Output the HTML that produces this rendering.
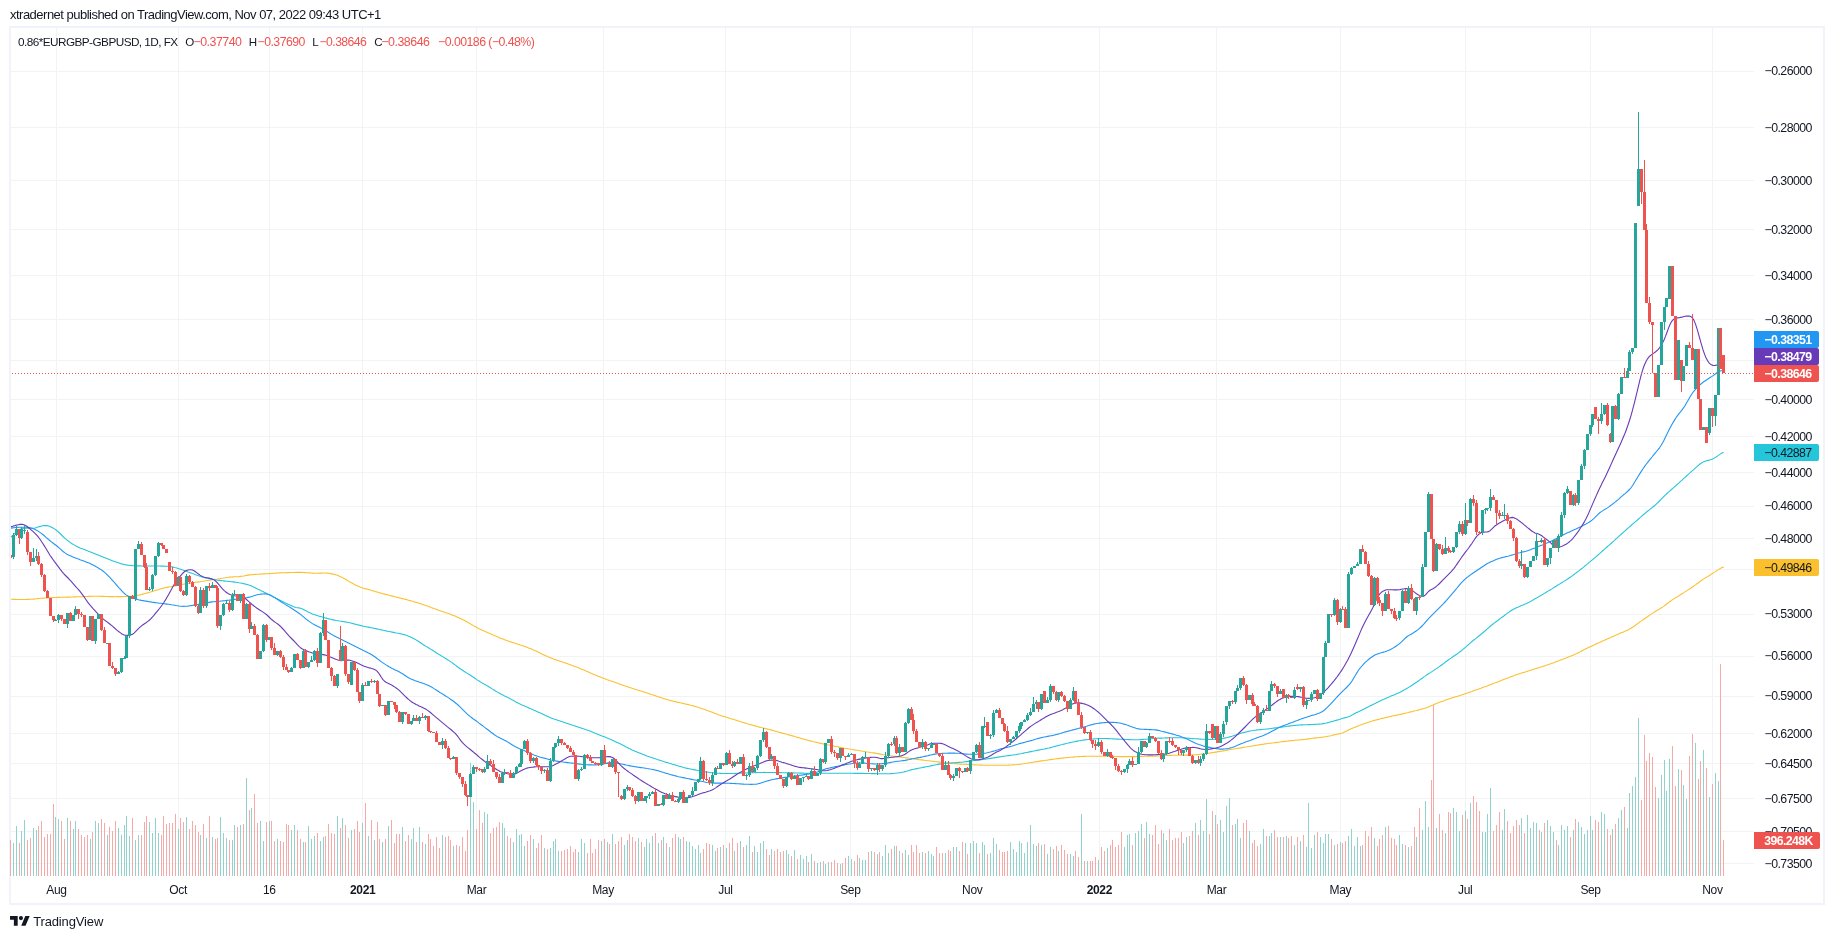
<!DOCTYPE html>
<html><head><meta charset="utf-8"><title>0.86*EURGBP-GBPUSD</title>
<style>
html,body{margin:0;padding:0;background:#fff}
body{width:1834px;height:939px;position:relative;overflow:hidden;font-family:"Liberation Sans",sans-serif;color:#131722}
svg{position:absolute;left:0;top:0}
.u{fill:#26a69a}.d{fill:#ef5350}
.t{position:absolute;white-space:pre;line-height:1}
.bg{position:absolute;left:1754px;width:65px;height:17px;border-radius:0 2px 2px 0}
.bg.v{width:66px}
</style></head><body>
<svg width="1834" height="939" viewBox="0 0 1834 939" shape-rendering="crispEdges">
<path fill="#f0f3fa" d="M9 26h1816v879h-1816zM11 28v875h1812v-875z" fill-rule="evenodd"/>
<path fill="#f2f3f4" d="M56 28h1v848h-1zM178 28h1v848h-1zM269 28h1v848h-1zM362 28h1v848h-1zM476 28h1v848h-1zM603 28h1v848h-1zM725 28h1v848h-1zM850 28h1v848h-1zM972 28h1v848h-1zM1099 28h1v848h-1zM1216 28h1v848h-1zM1340 28h1v848h-1zM1465 28h1v848h-1zM1590 28h1v848h-1zM1712 28h1v848h-1zM11 71h1743v1h-1743zM11 127h1743v1h-1743zM11 180h1743v1h-1743zM11 229h1743v1h-1743zM11 275h1743v1h-1743zM11 319h1743v1h-1743zM11 360h1743v1h-1743zM11 399h1743v1h-1743zM11 436h1743v1h-1743zM11 472h1743v1h-1743zM11 506h1743v1h-1743zM11 538h1743v1h-1743zM11 569h1743v1h-1743zM11 614h1743v1h-1743zM11 656h1743v1h-1743zM11 696h1743v1h-1743zM11 733h1743v1h-1743zM11 763h1743v1h-1743zM11 798h1743v1h-1743zM11 831h1743v1h-1743zM11 863h1743v1h-1743z"/>
<path fill="#92d2cc" d="M13 843h1v33h-1zM16 826h1v50h-1zM21 831h1v45h-1zM24 820h1v56h-1zM33 828h1v48h-1zM36 830h1v46h-1zM55 817h1v59h-1zM58 819h1v57h-1zM67 818h1v58h-1zM73 829h1v47h-1zM75 821h1v55h-1zM90 839h1v37h-1zM95 821h1v55h-1zM98 823h1v53h-1zM107 835h1v41h-1zM118 828h1v48h-1zM121 835h1v41h-1zM124 825h1v51h-1zM126 816h1v60h-1zM129 836h1v40h-1zM135 840h1v36h-1zM138 835h1v41h-1zM149 822h1v54h-1zM152 833h1v43h-1zM155 818h1v58h-1zM158 833h1v43h-1zM178 829h1v47h-1zM186 817h1v59h-1zM200 835h1v41h-1zM206 838h1v38h-1zM212 837h1v39h-1zM220 817h1v59h-1zM223 833h1v43h-1zM226 838h1v38h-1zM232 840h1v36h-1zM234 825h1v51h-1zM240 825h1v51h-1zM246 778h1v98h-1zM251 808h1v68h-1zM260 821h1v55h-1zM263 841h1v35h-1zM269 821h1v55h-1zM277 839h1v37h-1zM291 830h1v46h-1zM294 825h1v51h-1zM303 842h1v34h-1zM308 826h1v50h-1zM311 839h1v37h-1zM314 836h1v40h-1zM320 841h1v35h-1zM323 837h1v39h-1zM337 816h1v60h-1zM342 818h1v58h-1zM351 830h1v46h-1zM362 823h1v53h-1zM368 836h1v40h-1zM374 840h1v36h-1zM382 842h1v34h-1zM388 826h1v50h-1zM402 827h1v49h-1zM411 839h1v37h-1zM413 828h1v48h-1zM419 827h1v49h-1zM425 844h1v32h-1zM442 835h1v41h-1zM453 846h1v30h-1zM470 763h1v113h-1zM473 802h1v74h-1zM484 812h1v64h-1zM487 814h1v62h-1zM502 823h1v53h-1zM504 828h1v48h-1zM513 842h1v34h-1zM516 829h1v47h-1zM519 835h1v41h-1zM521 834h1v42h-1zM524 846h1v30h-1zM533 839h1v37h-1zM544 848h1v28h-1zM550 848h1v28h-1zM553 841h1v35h-1zM555 839h1v37h-1zM558 851h1v25h-1zM578 852h1v24h-1zM581 839h1v37h-1zM584 843h1v33h-1zM601 841h1v35h-1zM607 842h1v34h-1zM612 834h1v42h-1zM624 845h1v31h-1zM627 840h1v36h-1zM638 838h1v38h-1zM644 847h1v29h-1zM646 839h1v37h-1zM649 843h1v33h-1zM652 836h1v40h-1zM658 843h1v33h-1zM663 837h1v39h-1zM669 847h1v29h-1zM678 837h1v39h-1zM680 839h1v37h-1zM686 841h1v35h-1zM689 842h1v34h-1zM692 846h1v30h-1zM695 849h1v27h-1zM698 845h1v31h-1zM700 853h1v23h-1zM712 845h1v31h-1zM715 851h1v25h-1zM720 847h1v29h-1zM726 848h1v28h-1zM734 851h1v25h-1zM740 841h1v35h-1zM746 845h1v31h-1zM749 836h1v40h-1zM754 846h1v30h-1zM757 852h1v24h-1zM760 843h1v33h-1zM763 841h1v35h-1zM771 849h1v27h-1zM786 850h1v26h-1zM788 854h1v22h-1zM794 850h1v26h-1zM800 855h1v21h-1zM803 859h1v17h-1zM806 856h1v20h-1zM811 854h1v22h-1zM817 863h1v13h-1zM820 862h1v14h-1zM825 864h1v12h-1zM828 862h1v14h-1zM840 864h1v12h-1zM848 856h1v20h-1zM851 859h1v17h-1zM859 858h1v18h-1zM862 860h1v16h-1zM865 860h1v16h-1zM871 851h1v25h-1zM877 854h1v22h-1zM882 856h1v20h-1zM885 845h1v31h-1zM888 853h1v23h-1zM894 846h1v30h-1zM899 851h1v25h-1zM905 850h1v26h-1zM908 855h1v21h-1zM922 852h1v24h-1zM928 851h1v25h-1zM931 854h1v22h-1zM933 856h1v20h-1zM945 853h1v23h-1zM953 847h1v29h-1zM956 847h1v29h-1zM965 843h1v33h-1zM970 843h1v33h-1zM973 841h1v35h-1zM976 843h1v33h-1zM982 842h1v34h-1zM984 845h1v31h-1zM990 853h1v23h-1zM993 838h1v38h-1zM996 844h1v32h-1zM1010 842h1v34h-1zM1013 849h1v27h-1zM1016 852h1v24h-1zM1019 841h1v35h-1zM1021 843h1v33h-1zM1024 853h1v23h-1zM1027 842h1v34h-1zM1030 825h1v51h-1zM1033 844h1v32h-1zM1036 846h1v30h-1zM1041 845h1v31h-1zM1047 854h1v22h-1zM1050 847h1v29h-1zM1058 851h1v25h-1zM1070 854h1v22h-1zM1073 856h1v20h-1zM1081 814h1v62h-1zM1087 861h1v15h-1zM1098 860h1v16h-1zM1107 848h1v28h-1zM1124 847h1v29h-1zM1127 835h1v41h-1zM1129 834h1v42h-1zM1135 833h1v43h-1zM1138 831h1v45h-1zM1141 824h1v52h-1zM1146 822h1v54h-1zM1149 834h1v42h-1zM1163 833h1v43h-1zM1166 840h1v36h-1zM1183 843h1v33h-1zM1186 837h1v39h-1zM1195 823h1v53h-1zM1200 820h1v56h-1zM1203 831h1v45h-1zM1206 799h1v77h-1zM1215 815h1v61h-1zM1220 820h1v56h-1zM1223 832h1v44h-1zM1226 806h1v70h-1zM1229 798h1v78h-1zM1235 824h1v52h-1zM1237 819h1v57h-1zM1240 838h1v38h-1zM1249 831h1v45h-1zM1260 844h1v32h-1zM1263 829h1v47h-1zM1269 836h1v40h-1zM1271 833h1v43h-1zM1280 837h1v39h-1zM1286 836h1v40h-1zM1294 845h1v31h-1zM1300 841h1v35h-1zM1306 847h1v29h-1zM1308 803h1v73h-1zM1311 848h1v28h-1zM1314 835h1v41h-1zM1320 837h1v39h-1zM1323 843h1v33h-1zM1325 834h1v42h-1zM1328 834h1v42h-1zM1334 845h1v31h-1zM1340 842h1v34h-1zM1348 836h1v40h-1zM1351 829h1v47h-1zM1354 846h1v30h-1zM1357 837h1v39h-1zM1360 846h1v30h-1zM1374 838h1v38h-1zM1385 827h1v49h-1zM1399 835h1v41h-1zM1402 844h1v32h-1zM1408 847h1v29h-1zM1416 837h1v39h-1zM1422 830h1v46h-1zM1425 801h1v75h-1zM1428 827h1v49h-1zM1436 828h1v48h-1zM1445 833h1v43h-1zM1453 808h1v68h-1zM1456 812h1v64h-1zM1459 831h1v45h-1zM1465 811h1v65h-1zM1470 803h1v73h-1zM1482 832h1v44h-1zM1485 832h1v44h-1zM1487 814h1v62h-1zM1490 788h1v88h-1zM1502 830h1v46h-1zM1504 809h1v67h-1zM1521 818h1v58h-1zM1527 815h1v61h-1zM1530 828h1v48h-1zM1533 822h1v54h-1zM1536 823h1v53h-1zM1541 832h1v44h-1zM1547 820h1v56h-1zM1550 826h1v50h-1zM1553 832h1v44h-1zM1558 845h1v31h-1zM1561 825h1v51h-1zM1564 830h1v46h-1zM1567 826h1v50h-1zM1573 830h1v46h-1zM1578 822h1v54h-1zM1581 827h1v49h-1zM1584 834h1v42h-1zM1587 830h1v46h-1zM1590 816h1v60h-1zM1592 830h1v46h-1zM1601 812h1v64h-1zM1604 814h1v62h-1zM1612 829h1v47h-1zM1618 818h1v58h-1zM1621 810h1v66h-1zM1627 828h1v48h-1zM1629 793h1v83h-1zM1632 786h1v90h-1zM1635 777h1v99h-1zM1638 718h1v158h-1zM1658 798h1v78h-1zM1661 775h1v101h-1zM1664 760h1v116h-1zM1666 791h1v85h-1zM1669 759h1v117h-1zM1678 769h1v107h-1zM1683 785h1v91h-1zM1686 799h1v77h-1zM1695 743h1v133h-1zM1703 750h1v126h-1zM1709 797h1v79h-1zM1715 773h1v103h-1zM1718 781h1v95h-1z"/>
<path fill="#f7a9a7" d="M10 840h1v36h-1zM19 843h1v33h-1zM27 840h1v36h-1zM30 838h1v38h-1zM38 826h1v50h-1zM41 821h1v55h-1zM44 837h1v39h-1zM47 834h1v42h-1zM50 834h1v42h-1zM53 804h1v72h-1zM61 821h1v55h-1zM64 839h1v37h-1zM70 821h1v55h-1zM78 829h1v47h-1zM81 835h1v41h-1zM84 837h1v39h-1zM87 835h1v41h-1zM92 832h1v44h-1zM101 819h1v57h-1zM104 823h1v53h-1zM109 827h1v49h-1zM112 831h1v45h-1zM115 821h1v55h-1zM132 818h1v58h-1zM141 835h1v41h-1zM144 822h1v54h-1zM146 816h1v60h-1zM161 835h1v41h-1zM163 816h1v60h-1zM166 824h1v52h-1zM169 823h1v53h-1zM172 823h1v53h-1zM175 814h1v62h-1zM180 818h1v58h-1zM183 822h1v54h-1zM189 829h1v47h-1zM192 821h1v55h-1zM195 825h1v51h-1zM198 832h1v44h-1zM203 824h1v52h-1zM209 816h1v60h-1zM215 839h1v37h-1zM217 838h1v38h-1zM229 840h1v36h-1zM237 827h1v49h-1zM243 824h1v52h-1zM249 810h1v66h-1zM254 794h1v82h-1zM257 823h1v53h-1zM266 822h1v54h-1zM271 821h1v55h-1zM274 841h1v35h-1zM280 841h1v35h-1zM283 842h1v34h-1zM286 824h1v52h-1zM288 825h1v51h-1zM297 830h1v46h-1zM300 839h1v37h-1zM305 842h1v34h-1zM317 833h1v43h-1zM325 836h1v40h-1zM328 824h1v52h-1zM331 833h1v43h-1zM334 834h1v42h-1zM340 828h1v48h-1zM345 825h1v51h-1zM348 838h1v38h-1zM354 829h1v47h-1zM357 821h1v55h-1zM359 832h1v44h-1zM365 803h1v73h-1zM371 820h1v56h-1zM377 822h1v54h-1zM379 839h1v37h-1zM385 839h1v37h-1zM391 820h1v56h-1zM394 843h1v33h-1zM396 834h1v42h-1zM399 834h1v42h-1zM405 841h1v35h-1zM408 835h1v41h-1zM416 842h1v34h-1zM422 842h1v34h-1zM428 834h1v42h-1zM430 839h1v37h-1zM433 846h1v30h-1zM436 837h1v39h-1zM439 848h1v28h-1zM445 837h1v39h-1zM448 836h1v40h-1zM450 840h1v36h-1zM456 845h1v31h-1zM459 846h1v30h-1zM462 837h1v39h-1zM465 851h1v25h-1zM467 830h1v46h-1zM476 829h1v47h-1zM479 810h1v66h-1zM482 823h1v53h-1zM490 833h1v43h-1zM493 828h1v48h-1zM496 827h1v49h-1zM499 822h1v54h-1zM507 836h1v40h-1zM510 838h1v38h-1zM527 841h1v35h-1zM530 835h1v41h-1zM536 848h1v28h-1zM538 843h1v33h-1zM541 835h1v41h-1zM547 849h1v27h-1zM561 851h1v25h-1zM564 850h1v26h-1zM567 849h1v27h-1zM570 846h1v30h-1zM573 852h1v24h-1zM575 849h1v27h-1zM587 853h1v23h-1zM590 839h1v37h-1zM592 853h1v23h-1zM595 849h1v27h-1zM598 840h1v36h-1zM604 839h1v37h-1zM609 844h1v32h-1zM615 844h1v32h-1zM618 841h1v35h-1zM621 837h1v39h-1zM629 834h1v42h-1zM632 837h1v39h-1zM635 841h1v35h-1zM641 842h1v34h-1zM655 833h1v43h-1zM661 840h1v36h-1zM666 843h1v33h-1zM672 838h1v38h-1zM675 834h1v42h-1zM683 837h1v39h-1zM703 849h1v27h-1zM706 843h1v33h-1zM709 844h1v32h-1zM717 848h1v28h-1zM723 845h1v31h-1zM729 843h1v33h-1zM732 838h1v38h-1zM737 843h1v33h-1zM743 847h1v29h-1zM752 852h1v24h-1zM766 849h1v27h-1zM769 855h1v21h-1zM774 851h1v25h-1zM777 849h1v27h-1zM780 852h1v24h-1zM783 851h1v25h-1zM791 856h1v20h-1zM797 859h1v17h-1zM808 862h1v14h-1zM814 861h1v15h-1zM823 861h1v15h-1zM831 862h1v14h-1zM834 860h1v16h-1zM837 863h1v13h-1zM842 863h1v13h-1zM845 858h1v18h-1zM854 861h1v15h-1zM857 855h1v21h-1zM868 852h1v24h-1zM874 852h1v24h-1zM879 852h1v24h-1zM891 849h1v27h-1zM896 846h1v30h-1zM902 853h1v23h-1zM911 845h1v31h-1zM913 852h1v24h-1zM916 845h1v31h-1zM919 853h1v23h-1zM925 853h1v23h-1zM936 847h1v29h-1zM939 853h1v23h-1zM942 853h1v23h-1zM948 850h1v26h-1zM950 851h1v25h-1zM959 851h1v25h-1zM962 842h1v34h-1zM967 854h1v22h-1zM979 853h1v23h-1zM987 854h1v22h-1zM999 850h1v26h-1zM1002 852h1v24h-1zM1004 852h1v24h-1zM1007 851h1v25h-1zM1038 843h1v33h-1zM1044 844h1v32h-1zM1053 849h1v27h-1zM1056 846h1v30h-1zM1061 845h1v31h-1zM1064 850h1v26h-1zM1067 854h1v22h-1zM1075 851h1v25h-1zM1078 857h1v19h-1zM1084 861h1v15h-1zM1090 861h1v15h-1zM1092 861h1v15h-1zM1095 857h1v19h-1zM1101 847h1v29h-1zM1104 851h1v25h-1zM1110 845h1v31h-1zM1112 840h1v36h-1zM1115 847h1v29h-1zM1118 845h1v31h-1zM1121 832h1v44h-1zM1132 845h1v31h-1zM1144 838h1v38h-1zM1152 835h1v41h-1zM1155 825h1v51h-1zM1158 844h1v32h-1zM1161 830h1v46h-1zM1169 829h1v47h-1zM1172 840h1v36h-1zM1175 838h1v38h-1zM1178 838h1v38h-1zM1181 832h1v44h-1zM1189 836h1v40h-1zM1192 831h1v45h-1zM1198 835h1v41h-1zM1209 834h1v42h-1zM1212 811h1v65h-1zM1217 824h1v52h-1zM1232 825h1v51h-1zM1243 823h1v53h-1zM1246 820h1v56h-1zM1252 843h1v33h-1zM1254 840h1v36h-1zM1257 846h1v30h-1zM1266 836h1v40h-1zM1274 830h1v46h-1zM1277 837h1v39h-1zM1283 837h1v39h-1zM1288 838h1v38h-1zM1291 836h1v40h-1zM1297 837h1v39h-1zM1303 835h1v41h-1zM1317 832h1v44h-1zM1331 839h1v37h-1zM1337 844h1v32h-1zM1342 843h1v33h-1zM1345 841h1v35h-1zM1362 845h1v31h-1zM1365 831h1v45h-1zM1368 836h1v40h-1zM1371 827h1v49h-1zM1377 846h1v30h-1zM1379 839h1v37h-1zM1382 835h1v41h-1zM1388 826h1v50h-1zM1391 838h1v38h-1zM1394 839h1v37h-1zM1396 845h1v31h-1zM1405 845h1v31h-1zM1411 846h1v30h-1zM1414 827h1v49h-1zM1419 808h1v68h-1zM1431 780h1v96h-1zM1433 705h1v171h-1zM1439 814h1v62h-1zM1442 830h1v46h-1zM1448 812h1v64h-1zM1450 813h1v63h-1zM1462 815h1v61h-1zM1467 819h1v57h-1zM1473 796h1v80h-1zM1476 802h1v74h-1zM1479 811h1v65h-1zM1493 831h1v45h-1zM1496 825h1v51h-1zM1499 812h1v64h-1zM1507 821h1v55h-1zM1510 833h1v43h-1zM1513 826h1v50h-1zM1516 820h1v56h-1zM1519 825h1v51h-1zM1524 833h1v43h-1zM1539 830h1v46h-1zM1544 823h1v53h-1zM1556 840h1v36h-1zM1570 837h1v39h-1zM1575 819h1v57h-1zM1595 820h1v56h-1zM1598 822h1v54h-1zM1607 829h1v47h-1zM1610 835h1v41h-1zM1615 824h1v52h-1zM1624 807h1v69h-1zM1641 800h1v76h-1zM1644 735h1v141h-1zM1646 761h1v115h-1zM1649 753h1v123h-1zM1652 757h1v119h-1zM1655 787h1v89h-1zM1672 746h1v130h-1zM1675 786h1v90h-1zM1681 770h1v106h-1zM1689 756h1v120h-1zM1692 734h1v142h-1zM1698 779h1v97h-1zM1700 761h1v115h-1zM1706 768h1v108h-1zM1712 784h1v92h-1zM1720 664h1v212h-1zM1723 840h1v36h-1z"/>
<g shape-rendering="geometricPrecision">
<path fill="none" stroke="#fbc02d" stroke-width="1.1" stroke-linejoin="round" d="M11.0 599.2L12.5 599.3L14.0 599.4L15.5 599.4L17.0 599.5L18.5 599.5L20.0 599.5L21.5 599.5L23.0 599.5L24.5 599.5L26.0 599.5L27.5 599.4L29.0 599.4L30.5 599.3L32.0 599.2L33.5 599.1L35.0 599.0L36.5 598.8L38.0 598.6L39.5 598.5L41.0 598.3L42.5 598.2L44.0 598.1L45.5 598.0L47.0 597.9L48.5 597.8L50.0 597.7L51.5 597.7L53.0 597.6L54.5 597.5L56.0 597.5L57.5 597.4L59.0 597.4L60.5 597.3L62.0 597.3L63.5 597.2L65.0 597.2L66.5 597.1L68.0 597.1L69.5 597.1L71.0 597.0L72.5 597.0L74.0 596.9L75.5 596.9L77.0 596.8L78.5 596.8L80.0 596.7L81.5 596.7L83.0 596.6L84.5 596.6L86.0 596.5L87.5 596.5L89.0 596.4L90.5 596.4L92.0 596.3L93.5 596.3L95.0 596.3L96.5 596.3L98.0 596.3L99.5 596.3L101.0 596.4L102.5 596.4L104.0 596.4L105.5 596.5L107.0 596.5L108.5 596.6L110.0 596.6L111.5 596.6L113.0 596.6L114.5 596.7L116.0 596.7L117.5 596.6L119.0 596.6L120.5 596.6L122.0 596.6L123.5 596.5L125.0 596.5L126.5 596.4L128.0 596.4L129.5 596.3L131.0 596.2L132.5 596.1L134.0 595.9L135.5 595.7L137.0 595.5L138.5 595.2L140.0 594.9L141.5 594.5L143.0 594.1L144.5 593.7L146.0 593.3L147.5 592.9L149.0 592.4L150.5 592.0L152.0 591.5L153.5 591.1L155.0 590.6L156.5 590.1L158.0 589.7L159.5 589.2L161.0 588.8L162.5 588.4L164.0 588.0L165.5 587.7L167.0 587.4L168.5 587.1L170.0 586.8L171.5 586.5L173.0 586.2L174.5 585.9L176.0 585.6L177.5 585.3L179.0 585.0L180.5 584.7L182.0 584.4L183.5 584.2L185.0 583.9L186.5 583.7L188.0 583.4L189.5 583.2L191.0 583.0L192.5 582.8L194.0 582.5L195.5 582.3L197.0 582.1L198.5 581.9L200.0 581.7L201.5 581.5L203.0 581.3L204.5 581.0L206.0 580.8L207.5 580.5L209.0 580.3L210.5 580.1L212.0 579.8L213.5 579.6L215.0 579.4L216.5 579.2L218.0 579.0L219.5 578.8L221.0 578.5L222.5 578.3L224.0 578.0L225.5 577.8L227.0 577.5L228.5 577.3L230.0 577.1L231.5 577.0L233.0 576.9L234.5 576.8L236.0 576.8L237.5 576.7L239.0 576.6L240.5 576.4L242.0 576.2L243.5 576.0L245.0 575.7L246.5 575.4L248.0 575.1L249.5 574.9L251.0 574.7L252.5 574.6L254.0 574.5L255.5 574.4L257.0 574.3L258.5 574.2L260.0 574.1L261.5 574.0L263.0 573.9L264.5 573.9L266.0 573.8L267.5 573.7L269.0 573.6L270.5 573.5L272.0 573.4L273.5 573.3L275.0 573.2L276.5 573.1L278.0 573.0L279.5 572.9L281.0 572.8L282.5 572.7L284.0 572.7L285.5 572.7L287.0 572.6L288.5 572.6L290.0 572.5L291.5 572.5L293.0 572.5L294.5 572.5L296.0 572.4L297.5 572.4L299.0 572.4L300.5 572.4L302.0 572.4L303.5 572.5L305.0 572.6L306.5 572.7L308.0 572.8L309.5 572.9L311.0 573.0L312.5 573.1L314.0 573.2L315.5 573.2L317.0 573.3L318.5 573.2L320.0 573.1L321.5 573.1L323.0 573.0L324.5 573.0L326.0 573.0L327.5 573.1L329.0 573.3L330.5 573.6L332.0 573.9L333.5 574.2L335.0 574.6L336.5 575.1L338.0 575.6L339.5 576.2L341.0 576.9L342.5 577.6L344.0 578.5L345.5 579.3L347.0 580.2L348.5 581.1L350.0 582.0L351.5 582.8L353.0 583.6L354.5 584.5L356.0 585.3L357.5 586.0L359.0 586.6L360.5 587.2L362.0 587.7L363.5 588.2L365.0 588.6L366.5 589.0L368.0 589.4L369.5 589.8L371.0 590.2L372.5 590.7L374.0 591.1L375.5 591.6L377.0 592.0L378.5 592.5L380.0 592.9L381.5 593.3L383.0 593.7L384.5 594.1L386.0 594.5L387.5 594.9L389.0 595.3L390.5 595.6L392.0 596.0L393.5 596.4L395.0 596.8L396.5 597.1L398.0 597.5L399.5 597.9L401.0 598.2L402.5 598.6L404.0 599.0L405.5 599.4L407.0 599.8L408.5 600.2L410.0 600.6L411.5 601.0L413.0 601.5L414.5 601.9L416.0 602.4L417.5 602.8L419.0 603.3L420.5 603.8L422.0 604.3L423.5 604.8L425.0 605.3L426.5 605.8L428.0 606.3L429.5 606.8L431.0 607.4L432.5 607.9L434.0 608.5L435.5 609.0L437.0 609.6L438.5 610.2L440.0 610.7L441.5 611.2L443.0 611.7L444.5 612.3L446.0 612.8L447.5 613.3L449.0 613.8L450.5 614.3L452.0 614.9L453.5 615.5L455.0 616.1L456.5 616.7L458.0 617.4L459.5 618.1L461.0 618.8L462.5 619.6L464.0 620.3L465.5 621.1L467.0 621.9L468.5 622.8L470.0 623.6L471.5 624.5L473.0 625.4L474.5 626.3L476.0 627.1L477.5 627.9L479.0 628.7L480.5 629.4L482.0 630.1L483.5 630.8L485.0 631.4L486.5 632.1L488.0 632.7L489.5 633.4L491.0 634.0L492.5 634.7L494.0 635.3L495.5 636.0L497.0 636.6L498.5 637.3L500.0 637.9L501.5 638.5L503.0 639.1L504.5 639.7L506.0 640.3L507.5 640.8L509.0 641.3L510.5 641.9L512.0 642.3L513.5 642.8L515.0 643.3L516.5 643.8L518.0 644.2L519.5 644.7L521.0 645.2L522.5 645.7L524.0 646.2L525.5 646.7L527.0 647.3L528.5 647.9L530.0 648.5L531.5 649.1L533.0 649.8L534.5 650.4L536.0 651.1L537.5 651.8L539.0 652.6L540.5 653.3L542.0 654.0L543.5 654.7L545.0 655.4L546.5 656.1L548.0 656.8L549.5 657.4L551.0 658.0L552.5 658.6L554.0 659.2L555.5 659.7L557.0 660.3L558.5 660.8L560.0 661.3L561.5 661.8L563.0 662.3L564.5 662.8L566.0 663.3L567.5 663.8L569.0 664.3L570.5 664.8L572.0 665.4L573.5 665.9L575.0 666.5L576.5 667.0L578.0 667.6L579.5 668.2L581.0 668.9L582.5 669.5L584.0 670.1L585.5 670.8L587.0 671.4L588.5 672.1L590.0 672.7L591.5 673.4L593.0 674.0L594.5 674.7L596.0 675.3L597.5 675.9L599.0 676.5L600.5 677.1L602.0 677.7L603.5 678.3L605.0 678.8L606.5 679.4L608.0 679.9L609.5 680.5L611.0 681.0L612.5 681.5L614.0 682.1L615.5 682.6L617.0 683.1L618.5 683.6L620.0 684.2L621.5 684.7L623.0 685.2L624.5 685.7L626.0 686.2L627.5 686.7L629.0 687.2L630.5 687.7L632.0 688.2L633.5 688.7L635.0 689.2L636.5 689.7L638.0 690.2L639.5 690.6L641.0 691.1L642.5 691.6L644.0 692.0L645.5 692.5L647.0 693.0L648.5 693.5L650.0 694.0L651.5 694.5L653.0 694.9L654.5 695.4L656.0 695.9L657.5 696.4L659.0 696.9L660.5 697.4L662.0 697.9L663.5 698.4L665.0 698.9L666.5 699.3L668.0 699.8L669.5 700.2L671.0 700.6L672.5 701.0L674.0 701.4L675.5 701.7L677.0 702.1L678.5 702.4L680.0 702.7L681.5 703.0L683.0 703.4L684.5 703.7L686.0 704.1L687.5 704.4L689.0 704.8L690.5 705.2L692.0 705.5L693.5 705.9L695.0 706.4L696.5 706.8L698.0 707.3L699.5 707.7L701.0 708.2L702.5 708.8L704.0 709.3L705.5 709.8L707.0 710.4L708.5 710.9L710.0 711.5L711.5 712.0L713.0 712.6L714.5 713.2L716.0 713.8L717.5 714.3L719.0 714.9L720.5 715.4L722.0 715.9L723.5 716.4L725.0 716.8L726.5 717.3L728.0 717.7L729.5 718.2L731.0 718.7L732.5 719.1L734.0 719.6L735.5 720.1L737.0 720.5L738.5 721.0L740.0 721.5L741.5 722.0L743.0 722.4L744.5 722.9L746.0 723.3L747.5 723.8L749.0 724.2L750.5 724.6L752.0 725.1L753.5 725.5L755.0 725.9L756.5 726.3L758.0 726.7L759.5 727.1L761.0 727.5L762.5 727.8L764.0 728.2L765.5 728.6L767.0 728.9L768.5 729.3L770.0 729.7L771.5 730.1L773.0 730.5L774.5 730.9L776.0 731.4L777.5 731.8L779.0 732.2L780.5 732.6L782.0 733.0L783.5 733.4L785.0 733.8L786.5 734.3L788.0 734.7L789.5 735.1L791.0 735.5L792.5 735.9L794.0 736.3L795.5 736.8L797.0 737.2L798.5 737.6L800.0 738.1L801.5 738.5L803.0 738.9L804.5 739.4L806.0 739.8L807.5 740.2L809.0 740.6L810.5 740.9L812.0 741.3L813.5 741.7L815.0 742.0L816.5 742.4L818.0 742.7L819.5 743.1L821.0 743.4L822.5 743.7L824.0 744.1L825.5 744.4L827.0 744.7L828.5 745.0L830.0 745.3L831.5 745.6L833.0 745.9L834.5 746.2L836.0 746.5L837.5 746.8L839.0 747.1L840.5 747.4L842.0 747.7L843.5 748.0L845.0 748.2L846.5 748.5L848.0 748.8L849.5 749.0L851.0 749.3L852.5 749.5L854.0 749.8L855.5 750.1L857.0 750.3L858.5 750.5L860.0 750.8L861.5 751.0L863.0 751.3L864.5 751.5L866.0 751.8L867.5 752.0L869.0 752.2L870.5 752.5L872.0 752.7L873.5 752.9L875.0 753.1L876.5 753.4L878.0 753.6L879.5 753.9L881.0 754.2L882.5 754.5L884.0 754.7L885.5 755.0L887.0 755.3L888.5 755.5L890.0 755.8L891.5 756.0L893.0 756.2L894.5 756.4L896.0 756.6L897.5 756.8L899.0 756.9L900.5 757.1L902.0 757.3L903.5 757.5L905.0 757.7L906.5 757.9L908.0 758.1L909.5 758.3L911.0 758.5L912.5 758.8L914.0 759.0L915.5 759.2L917.0 759.4L918.5 759.6L920.0 759.8L921.5 759.9L923.0 760.1L924.5 760.3L926.0 760.5L927.5 760.7L929.0 760.8L930.5 761.0L932.0 761.2L933.5 761.4L935.0 761.6L936.5 761.7L938.0 761.9L939.5 762.1L941.0 762.3L942.5 762.4L944.0 762.6L945.5 762.7L947.0 762.9L948.5 763.0L950.0 763.2L951.5 763.3L953.0 763.5L954.5 763.6L956.0 763.8L957.5 763.9L959.0 764.0L960.5 764.1L962.0 764.2L963.5 764.3L965.0 764.3L966.5 764.4L968.0 764.5L969.5 764.6L971.0 764.7L972.5 764.8L974.0 764.8L975.5 764.9L977.0 765.0L978.5 765.0L980.0 765.1L981.5 765.1L983.0 765.2L984.5 765.3L986.0 765.3L987.5 765.3L989.0 765.3L990.5 765.3L992.0 765.3L993.5 765.3L995.0 765.3L996.5 765.3L998.0 765.3L999.5 765.3L1001.0 765.3L1002.5 765.3L1004.0 765.3L1005.5 765.2L1007.0 765.2L1008.5 765.1L1010.0 765.0L1011.5 765.0L1013.0 764.9L1014.5 764.8L1016.0 764.7L1017.5 764.5L1019.0 764.4L1020.5 764.2L1022.0 764.0L1023.5 763.8L1025.0 763.5L1026.5 763.3L1028.0 763.0L1029.5 762.8L1031.0 762.6L1032.5 762.3L1034.0 762.1L1035.5 761.8L1037.0 761.6L1038.5 761.4L1040.0 761.1L1041.5 760.9L1043.0 760.7L1044.5 760.5L1046.0 760.3L1047.5 760.1L1049.0 759.8L1050.5 759.6L1052.0 759.4L1053.5 759.2L1055.0 759.0L1056.5 758.8L1058.0 758.6L1059.5 758.4L1061.0 758.3L1062.5 758.1L1064.0 757.9L1065.5 757.8L1067.0 757.6L1068.5 757.5L1070.0 757.3L1071.5 757.2L1073.0 757.1L1074.5 756.9L1076.0 756.8L1077.5 756.7L1079.0 756.6L1080.5 756.5L1082.0 756.5L1083.5 756.4L1085.0 756.4L1086.5 756.3L1088.0 756.3L1089.5 756.2L1091.0 756.2L1092.5 756.2L1094.0 756.2L1095.5 756.2L1097.0 756.2L1098.5 756.2L1100.0 756.2L1101.5 756.2L1103.0 756.2L1104.5 756.2L1106.0 756.3L1107.5 756.3L1109.0 756.3L1110.5 756.4L1112.0 756.4L1113.5 756.4L1115.0 756.5L1116.5 756.5L1118.0 756.5L1119.5 756.6L1121.0 756.6L1122.5 756.6L1124.0 756.6L1125.5 756.6L1127.0 756.6L1128.5 756.6L1130.0 756.6L1131.5 756.6L1133.0 756.6L1134.5 756.6L1136.0 756.6L1137.5 756.5L1139.0 756.5L1140.5 756.4L1142.0 756.4L1143.5 756.3L1145.0 756.3L1146.5 756.2L1148.0 756.2L1149.5 756.1L1151.0 756.1L1152.5 756.1L1154.0 756.1L1155.5 756.1L1157.0 756.0L1158.5 756.0L1160.0 755.9L1161.5 755.8L1163.0 755.7L1164.5 755.6L1166.0 755.5L1167.5 755.5L1169.0 755.4L1170.5 755.4L1172.0 755.3L1173.5 755.3L1175.0 755.2L1176.5 755.2L1178.0 755.2L1179.5 755.1L1181.0 755.1L1182.5 755.1L1184.0 755.1L1185.5 755.1L1187.0 755.1L1188.5 755.1L1190.0 755.1L1191.5 755.0L1193.0 754.9L1194.5 754.8L1196.0 754.7L1197.5 754.6L1199.0 754.5L1200.5 754.3L1202.0 754.1L1203.5 753.9L1205.0 753.7L1206.5 753.5L1208.0 753.3L1209.5 753.1L1211.0 752.8L1212.5 752.6L1214.0 752.4L1215.5 752.1L1217.0 751.9L1218.5 751.6L1220.0 751.4L1221.5 751.2L1223.0 750.9L1224.5 750.7L1226.0 750.4L1227.5 750.1L1229.0 749.8L1230.5 749.5L1232.0 749.2L1233.5 749.0L1235.0 748.7L1236.5 748.5L1238.0 748.3L1239.5 748.1L1241.0 747.9L1242.5 747.6L1244.0 747.3L1245.5 747.0L1247.0 746.8L1248.5 746.5L1250.0 746.3L1251.5 746.1L1253.0 745.8L1254.5 745.6L1256.0 745.3L1257.5 745.1L1259.0 744.8L1260.5 744.6L1262.0 744.4L1263.5 744.2L1265.0 743.9L1266.5 743.7L1268.0 743.5L1269.5 743.3L1271.0 743.2L1272.5 743.0L1274.0 742.8L1275.5 742.6L1277.0 742.4L1278.5 742.2L1280.0 742.0L1281.5 741.8L1283.0 741.6L1284.5 741.4L1286.0 741.2L1287.5 741.1L1289.0 740.9L1290.5 740.8L1292.0 740.6L1293.5 740.5L1295.0 740.3L1296.5 740.2L1298.0 740.0L1299.5 739.9L1301.0 739.7L1302.5 739.6L1304.0 739.5L1305.5 739.3L1307.0 739.1L1308.5 738.9L1310.0 738.7L1311.5 738.5L1313.0 738.3L1314.5 738.1L1316.0 737.9L1317.5 737.7L1319.0 737.5L1320.5 737.4L1322.0 737.2L1323.5 737.0L1325.0 736.8L1326.5 736.6L1328.0 736.3L1329.5 736.0L1331.0 735.7L1332.5 735.3L1334.0 734.9L1335.5 734.5L1337.0 734.2L1338.5 733.9L1340.0 733.6L1341.5 733.2L1343.0 732.7L1344.5 732.0L1346.0 731.3L1347.5 730.6L1349.0 729.8L1350.5 729.1L1352.0 728.4L1353.5 727.8L1355.0 727.2L1356.5 726.5L1358.0 725.9L1359.5 725.4L1361.0 724.8L1362.5 724.2L1364.0 723.7L1365.5 723.2L1367.0 722.7L1368.5 722.2L1370.0 721.7L1371.5 721.3L1373.0 720.8L1374.5 720.4L1376.0 720.0L1377.5 719.6L1379.0 719.2L1380.5 718.8L1382.0 718.4L1383.5 718.1L1385.0 717.7L1386.5 717.4L1388.0 717.0L1389.5 716.7L1391.0 716.4L1392.5 716.0L1394.0 715.7L1395.5 715.4L1397.0 715.1L1398.5 714.7L1400.0 714.4L1401.5 714.1L1403.0 713.7L1404.5 713.4L1406.0 713.0L1407.5 712.7L1409.0 712.3L1410.5 711.9L1412.0 711.6L1413.5 711.2L1415.0 710.8L1416.5 710.5L1418.0 710.1L1419.5 709.7L1421.0 709.3L1422.5 708.9L1424.0 708.5L1425.5 708.0L1427.0 707.5L1428.5 706.9L1430.0 706.3L1431.5 705.6L1433.0 705.0L1434.5 704.3L1436.0 703.7L1437.5 703.1L1439.0 702.6L1440.5 702.0L1442.0 701.4L1443.5 700.9L1445.0 700.3L1446.5 699.8L1448.0 699.3L1449.5 698.8L1451.0 698.3L1452.5 697.8L1454.0 697.3L1455.5 696.8L1457.0 696.4L1458.5 695.9L1460.0 695.4L1461.5 694.9L1463.0 694.4L1464.5 693.9L1466.0 693.4L1467.5 692.9L1469.0 692.4L1470.5 691.9L1472.0 691.4L1473.5 690.8L1475.0 690.3L1476.5 689.8L1478.0 689.3L1479.5 688.7L1481.0 688.2L1482.5 687.6L1484.0 687.1L1485.5 686.5L1487.0 686.0L1488.5 685.4L1490.0 684.8L1491.5 684.3L1493.0 683.7L1494.5 683.1L1496.0 682.6L1497.5 682.0L1499.0 681.4L1500.5 680.8L1502.0 680.2L1503.5 679.6L1505.0 679.0L1506.5 678.5L1508.0 677.9L1509.5 677.3L1511.0 676.7L1512.5 676.2L1514.0 675.6L1515.5 675.1L1517.0 674.6L1518.5 674.1L1520.0 673.6L1521.5 673.1L1523.0 672.6L1524.5 672.2L1526.0 671.7L1527.5 671.2L1529.0 670.7L1530.5 670.3L1532.0 669.8L1533.5 669.3L1535.0 668.8L1536.5 668.4L1538.0 667.9L1539.5 667.4L1541.0 667.0L1542.5 666.5L1544.0 666.0L1545.5 665.5L1547.0 665.0L1548.5 664.5L1550.0 664.0L1551.5 663.5L1553.0 662.9L1554.5 662.4L1556.0 661.8L1557.5 661.2L1559.0 660.7L1560.5 660.1L1562.0 659.5L1563.5 659.0L1565.0 658.4L1566.5 657.8L1568.0 657.2L1569.5 656.6L1571.0 656.0L1572.5 655.4L1574.0 654.7L1575.5 654.1L1577.0 653.4L1578.5 652.6L1580.0 651.9L1581.5 651.1L1583.0 650.3L1584.5 649.6L1586.0 648.8L1587.5 648.0L1589.0 647.3L1590.5 646.6L1592.0 645.9L1593.5 645.2L1595.0 644.5L1596.5 643.8L1598.0 643.1L1599.5 642.5L1601.0 641.8L1602.5 641.1L1604.0 640.5L1605.5 639.8L1607.0 639.1L1608.5 638.4L1610.0 637.8L1611.5 637.1L1613.0 636.4L1614.5 635.7L1616.0 635.1L1617.5 634.4L1619.0 633.8L1620.5 633.1L1622.0 632.5L1623.5 631.9L1625.0 631.3L1626.5 630.6L1628.0 629.9L1629.5 629.1L1631.0 628.2L1632.5 627.3L1634.0 626.2L1635.5 625.2L1637.0 624.1L1638.5 623.0L1640.0 621.9L1641.5 620.9L1643.0 619.8L1644.5 618.8L1646.0 617.7L1647.5 616.7L1649.0 615.6L1650.5 614.6L1652.0 613.6L1653.5 612.6L1655.0 611.7L1656.5 610.8L1658.0 609.9L1659.5 609.0L1661.0 608.0L1662.5 607.1L1664.0 606.1L1665.5 605.0L1667.0 603.8L1668.5 602.6L1670.0 601.5L1671.5 600.4L1673.0 599.4L1674.5 598.4L1676.0 597.5L1677.5 596.6L1679.0 595.7L1680.5 594.7L1682.0 593.8L1683.5 592.9L1685.0 591.9L1686.5 590.9L1688.0 589.9L1689.5 589.0L1691.0 588.0L1692.5 587.0L1694.0 585.9L1695.5 584.9L1697.0 583.8L1698.5 582.7L1700.0 581.5L1701.5 580.5L1703.0 579.4L1704.5 578.4L1706.0 577.5L1707.5 576.6L1709.0 575.7L1710.5 574.8L1712.0 573.8L1713.5 572.9L1715.0 571.9L1716.5 570.9L1718.0 569.9L1719.5 568.9L1721.0 568.1L1722.5 567.4L1723.7 567.1"/>
<path fill="none" stroke="#26c6da" stroke-width="1.1" stroke-linejoin="round" d="M11.0 537.0L12.5 535.8L14.0 534.3L15.5 532.6L17.0 531.1L18.5 529.9L20.0 529.2L21.5 528.8L23.0 528.5L24.5 528.4L26.0 528.3L27.5 528.2L29.0 528.2L30.5 528.2L32.0 528.2L33.5 528.2L35.0 528.0L36.5 527.6L38.0 527.1L39.5 526.6L41.0 526.2L42.5 525.8L44.0 525.6L45.5 525.5L47.0 525.6L48.5 526.0L50.0 526.5L51.5 527.2L53.0 528.0L54.5 528.9L56.0 530.0L57.5 531.2L59.0 532.5L60.5 534.0L62.0 535.5L63.5 537.0L65.0 538.3L66.5 539.6L68.0 540.8L69.5 541.9L71.0 543.0L72.5 544.0L74.0 544.9L75.5 545.8L77.0 546.5L78.5 547.2L80.0 547.9L81.5 548.4L83.0 549.0L84.5 549.6L86.0 550.2L87.5 550.8L89.0 551.4L90.5 552.0L92.0 552.6L93.5 553.2L95.0 553.8L96.5 554.4L98.0 555.0L99.5 555.6L101.0 556.2L102.5 556.8L104.0 557.4L105.5 558.0L107.0 558.6L108.5 559.2L110.0 559.8L111.5 560.4L113.0 561.0L114.5 561.6L116.0 562.1L117.5 562.6L119.0 563.1L120.5 563.6L122.0 564.0L123.5 564.4L125.0 564.7L126.5 564.9L128.0 565.2L129.5 565.4L131.0 565.5L132.5 565.7L134.0 565.8L135.5 565.8L137.0 565.9L138.5 565.9L140.0 565.9L141.5 566.0L143.0 566.0L144.5 566.0L146.0 566.0L147.5 566.0L149.0 566.0L150.5 566.0L152.0 566.0L153.5 566.0L155.0 566.0L156.5 566.0L158.0 566.0L159.5 566.0L161.0 566.1L162.5 566.1L164.0 566.1L165.5 566.2L167.0 566.2L168.5 566.4L170.0 566.5L171.5 566.8L173.0 567.1L174.5 567.5L176.0 567.8L177.5 568.2L179.0 568.7L180.5 569.2L182.0 569.7L183.5 570.2L185.0 570.7L186.5 571.3L188.0 571.9L189.5 572.4L191.0 573.0L192.5 573.6L194.0 574.1L195.5 574.7L197.0 575.3L198.5 575.8L200.0 576.3L201.5 576.8L203.0 577.2L204.5 577.6L206.0 577.9L207.5 578.3L209.0 578.6L210.5 578.9L212.0 579.2L213.5 579.5L215.0 579.7L216.5 580.0L218.0 580.2L219.5 580.4L221.0 580.6L222.5 580.8L224.0 580.9L225.5 581.1L227.0 581.2L228.5 581.4L230.0 581.5L231.5 581.7L233.0 581.9L234.5 582.1L236.0 582.3L237.5 582.5L239.0 582.8L240.5 583.0L242.0 583.3L243.5 583.6L245.0 584.0L246.5 584.4L248.0 584.8L249.5 585.3L251.0 585.8L252.5 586.5L254.0 587.2L255.5 587.9L257.0 588.7L258.5 589.4L260.0 590.1L261.5 590.9L263.0 591.6L264.5 592.4L266.0 593.1L267.5 593.9L269.0 594.6L270.5 595.4L272.0 596.1L273.5 596.9L275.0 597.6L276.5 598.4L278.0 599.2L279.5 599.9L281.0 600.7L282.5 601.5L284.0 602.2L285.5 603.0L287.0 603.7L288.5 604.4L290.0 605.1L291.5 605.8L293.0 606.5L294.5 607.0L296.0 607.5L297.5 607.7L299.0 607.9L300.5 608.2L302.0 608.7L303.5 609.4L305.0 610.2L306.5 611.1L308.0 611.9L309.5 612.6L311.0 613.3L312.5 613.9L314.0 614.4L315.5 614.9L317.0 615.4L318.5 615.9L320.0 616.4L321.5 616.8L323.0 617.3L324.5 617.7L326.0 618.1L327.5 618.5L329.0 618.9L330.5 619.3L332.0 619.6L333.5 619.9L335.0 620.2L336.5 620.5L338.0 620.7L339.5 621.0L341.0 621.2L342.5 621.4L344.0 621.7L345.5 621.9L347.0 622.2L348.5 622.5L350.0 622.8L351.5 623.2L353.0 623.6L354.5 624.0L356.0 624.4L357.5 624.7L359.0 625.1L360.5 625.5L362.0 625.9L363.5 626.2L365.0 626.5L366.5 626.8L368.0 627.1L369.5 627.4L371.0 627.7L372.5 628.0L374.0 628.3L375.5 628.6L377.0 628.9L378.5 629.2L380.0 629.5L381.5 629.9L383.0 630.2L384.5 630.5L386.0 630.9L387.5 631.2L389.0 631.5L390.5 631.8L392.0 632.1L393.5 632.4L395.0 632.7L396.5 633.0L398.0 633.2L399.5 633.5L401.0 633.9L402.5 634.2L404.0 634.6L405.5 635.1L407.0 635.6L408.5 636.2L410.0 636.8L411.5 637.4L413.0 638.2L414.5 639.0L416.0 639.9L417.5 640.8L419.0 641.8L420.5 642.8L422.0 643.8L423.5 644.7L425.0 645.7L426.5 646.6L428.0 647.5L429.5 648.5L431.0 649.4L432.5 650.3L434.0 651.3L435.5 652.2L437.0 653.2L438.5 654.1L440.0 655.0L441.5 656.0L443.0 656.9L444.5 657.8L446.0 658.7L447.5 659.7L449.0 660.6L450.5 661.6L452.0 662.6L453.5 663.7L455.0 664.9L456.5 666.0L458.0 667.2L459.5 668.3L461.0 669.3L462.5 670.3L464.0 671.3L465.5 672.2L467.0 673.1L468.5 674.0L470.0 675.0L471.5 676.0L473.0 677.0L474.5 678.0L476.0 679.1L477.5 680.1L479.0 681.0L480.5 682.0L482.0 682.9L483.5 683.7L485.0 684.6L486.5 685.4L488.0 686.3L489.5 687.2L491.0 688.1L492.5 689.1L494.0 690.0L495.5 691.0L497.0 691.9L498.5 692.8L500.0 693.6L501.5 694.4L503.0 695.1L504.5 695.9L506.0 696.6L507.5 697.4L509.0 698.1L510.5 698.9L512.0 699.8L513.5 700.6L515.0 701.5L516.5 702.3L518.0 703.0L519.5 703.8L521.0 704.5L522.5 705.2L524.0 705.8L525.5 706.5L527.0 707.1L528.5 707.8L530.0 708.5L531.5 709.1L533.0 709.8L534.5 710.4L536.0 711.1L537.5 711.7L539.0 712.4L540.5 713.1L542.0 713.8L543.5 714.5L545.0 715.2L546.5 715.9L548.0 716.6L549.5 717.3L551.0 717.9L552.5 718.5L554.0 719.1L555.5 719.6L557.0 720.1L558.5 720.6L560.0 721.1L561.5 721.6L563.0 722.1L564.5 722.6L566.0 723.1L567.5 723.5L569.0 724.0L570.5 724.5L572.0 725.0L573.5 725.5L575.0 725.9L576.5 726.4L578.0 726.9L579.5 727.4L581.0 727.9L582.5 728.4L584.0 728.9L585.5 729.5L587.0 730.0L588.5 730.6L590.0 731.1L591.5 731.7L593.0 732.3L594.5 732.9L596.0 733.5L597.5 734.2L599.0 734.8L600.5 735.4L602.0 736.0L603.5 736.5L605.0 737.1L606.5 737.7L608.0 738.3L609.5 739.0L611.0 739.6L612.5 740.3L614.0 741.0L615.5 741.7L617.0 742.4L618.5 743.1L620.0 743.8L621.5 744.6L623.0 745.3L624.5 746.1L626.0 746.9L627.5 747.6L629.0 748.4L630.5 749.1L632.0 749.9L633.5 750.5L635.0 751.2L636.5 751.8L638.0 752.4L639.5 753.0L641.0 753.6L642.5 754.2L644.0 754.8L645.5 755.4L647.0 756.0L648.5 756.5L650.0 757.1L651.5 757.6L653.0 758.1L654.5 758.6L656.0 759.1L657.5 759.6L659.0 760.0L660.5 760.5L662.0 761.0L663.5 761.5L665.0 761.9L666.5 762.4L668.0 762.8L669.5 763.3L671.0 763.7L672.5 764.2L674.0 764.6L675.5 765.1L677.0 765.5L678.5 766.0L680.0 766.4L681.5 766.8L683.0 767.3L684.5 767.7L686.0 768.1L687.5 768.4L689.0 768.7L690.5 769.0L692.0 769.3L693.5 769.6L695.0 769.9L696.5 770.2L698.0 770.5L699.5 770.8L701.0 771.1L702.5 771.4L704.0 771.6L705.5 771.9L707.0 772.1L708.5 772.3L710.0 772.5L711.5 772.7L713.0 772.9L714.5 773.0L716.0 773.1L717.5 773.2L719.0 773.3L720.5 773.4L722.0 773.5L723.5 773.5L725.0 773.5L726.5 773.5L728.0 773.5L729.5 773.5L731.0 773.5L732.5 773.5L734.0 773.5L735.5 773.4L737.0 773.3L738.5 773.3L740.0 773.2L741.5 773.1L743.0 773.1L744.5 773.0L746.0 773.0L747.5 772.9L749.0 772.8L750.5 772.8L752.0 772.7L753.5 772.7L755.0 772.6L756.5 772.6L758.0 772.5L759.5 772.5L761.0 772.5L762.5 772.5L764.0 772.4L765.5 772.5L767.0 772.5L768.5 772.5L770.0 772.5L771.5 772.5L773.0 772.5L774.5 772.5L776.0 772.6L777.5 772.6L779.0 772.6L780.5 772.6L782.0 772.7L783.5 772.7L785.0 772.7L786.5 772.8L788.0 772.8L789.5 772.8L791.0 772.9L792.5 772.9L794.0 772.9L795.5 773.0L797.0 773.0L798.5 773.0L800.0 773.1L801.5 773.1L803.0 773.1L804.5 773.2L806.0 773.2L807.5 773.2L809.0 773.2L810.5 773.2L812.0 773.2L813.5 773.2L815.0 773.2L816.5 773.2L818.0 773.2L819.5 773.2L821.0 773.2L822.5 773.2L824.0 773.2L825.5 773.2L827.0 773.2L828.5 773.2L830.0 773.2L831.5 773.2L833.0 773.2L834.5 773.2L836.0 773.2L837.5 773.2L839.0 773.2L840.5 773.2L842.0 773.2L843.5 773.2L845.0 773.2L846.5 773.3L848.0 773.3L849.5 773.3L851.0 773.3L852.5 773.3L854.0 773.4L855.5 773.4L857.0 773.4L858.5 773.4L860.0 773.4L861.5 773.4L863.0 773.4L864.5 773.5L866.0 773.5L867.5 773.5L869.0 773.5L870.5 773.5L872.0 773.6L873.5 773.6L875.0 773.6L876.5 773.7L878.0 773.7L879.5 773.7L881.0 773.7L882.5 773.7L884.0 773.7L885.5 773.7L887.0 773.7L888.5 773.7L890.0 773.7L891.5 773.6L893.0 773.5L894.5 773.3L896.0 773.2L897.5 773.0L899.0 772.8L900.5 772.6L902.0 772.3L903.5 772.0L905.0 771.6L906.5 771.2L908.0 770.7L909.5 770.3L911.0 769.9L912.5 769.5L914.0 769.2L915.5 768.9L917.0 768.6L918.5 768.3L920.0 768.0L921.5 767.7L923.0 767.4L924.5 767.1L926.0 766.8L927.5 766.5L929.0 766.2L930.5 765.9L932.0 765.6L933.5 765.3L935.0 765.0L936.5 764.7L938.0 764.4L939.5 764.1L941.0 763.9L942.5 763.7L944.0 763.5L945.5 763.3L947.0 763.2L948.5 763.1L950.0 763.0L951.5 762.9L953.0 762.8L954.5 762.7L956.0 762.6L957.5 762.5L959.0 762.4L960.5 762.3L962.0 762.2L963.5 762.0L965.0 761.8L966.5 761.6L968.0 761.4L969.5 761.1L971.0 760.9L972.5 760.7L974.0 760.5L975.5 760.4L977.0 760.2L978.5 760.1L980.0 759.9L981.5 759.7L983.0 759.5L984.5 759.3L986.0 759.1L987.5 758.8L989.0 758.6L990.5 758.4L992.0 758.1L993.5 757.9L995.0 757.6L996.5 757.4L998.0 757.1L999.5 756.9L1001.0 756.7L1002.5 756.4L1004.0 756.2L1005.5 756.0L1007.0 755.8L1008.5 755.6L1010.0 755.4L1011.5 755.2L1013.0 755.0L1014.5 754.8L1016.0 754.6L1017.5 754.3L1019.0 754.0L1020.5 753.8L1022.0 753.5L1023.5 753.1L1025.0 752.8L1026.5 752.5L1028.0 752.2L1029.5 751.9L1031.0 751.6L1032.5 751.3L1034.0 751.0L1035.5 750.7L1037.0 750.4L1038.5 750.1L1040.0 749.8L1041.5 749.5L1043.0 749.2L1044.5 749.0L1046.0 748.6L1047.5 748.3L1049.0 748.0L1050.5 747.6L1052.0 747.2L1053.5 746.8L1055.0 746.4L1056.5 746.0L1058.0 745.6L1059.5 745.2L1061.0 744.8L1062.5 744.5L1064.0 744.1L1065.5 743.7L1067.0 743.3L1068.5 743.0L1070.0 742.6L1071.5 742.3L1073.0 742.0L1074.5 741.7L1076.0 741.4L1077.5 741.1L1079.0 740.8L1080.5 740.6L1082.0 740.3L1083.5 740.1L1085.0 739.9L1086.5 739.7L1088.0 739.5L1089.5 739.3L1091.0 739.2L1092.5 739.0L1094.0 738.9L1095.5 738.8L1097.0 738.7L1098.5 738.6L1100.0 738.5L1101.5 738.5L1103.0 738.5L1104.5 738.5L1106.0 738.5L1107.5 738.6L1109.0 738.6L1110.5 738.7L1112.0 738.8L1113.5 738.9L1115.0 739.0L1116.5 739.1L1118.0 739.1L1119.5 739.2L1121.0 739.3L1122.5 739.3L1124.0 739.4L1125.5 739.5L1127.0 739.5L1128.5 739.6L1130.0 739.6L1131.5 739.7L1133.0 739.7L1134.5 739.7L1136.0 739.7L1137.5 739.7L1139.0 739.7L1140.5 739.6L1142.0 739.6L1143.5 739.4L1145.0 739.3L1146.5 739.2L1148.0 739.0L1149.5 738.8L1151.0 738.7L1152.5 738.5L1154.0 738.4L1155.5 738.3L1157.0 738.2L1158.5 738.1L1160.0 738.1L1161.5 738.1L1163.0 738.0L1164.5 738.0L1166.0 737.9L1167.5 737.9L1169.0 737.8L1170.5 737.7L1172.0 737.7L1173.5 737.7L1175.0 737.7L1176.5 737.7L1178.0 737.7L1179.5 737.7L1181.0 737.7L1182.5 737.8L1184.0 737.9L1185.5 738.0L1187.0 738.1L1188.5 738.2L1190.0 738.4L1191.5 738.5L1193.0 738.6L1194.5 738.7L1196.0 738.8L1197.5 738.9L1199.0 739.0L1200.5 739.1L1202.0 739.2L1203.5 739.2L1205.0 739.3L1206.5 739.4L1208.0 739.4L1209.5 739.5L1211.0 739.4L1212.5 739.4L1214.0 739.3L1215.5 739.3L1217.0 739.2L1218.5 739.0L1220.0 738.9L1221.5 738.6L1223.0 738.4L1224.5 738.1L1226.0 737.8L1227.5 737.5L1229.0 737.1L1230.5 736.6L1232.0 736.2L1233.5 735.7L1235.0 735.2L1236.5 734.7L1238.0 734.2L1239.5 733.7L1241.0 733.2L1242.5 732.8L1244.0 732.4L1245.5 732.1L1247.0 731.7L1248.5 731.4L1250.0 731.0L1251.5 730.7L1253.0 730.5L1254.5 730.2L1256.0 730.1L1257.5 729.9L1259.0 729.8L1260.5 729.6L1262.0 729.5L1263.5 729.3L1265.0 729.2L1266.5 729.0L1268.0 728.9L1269.5 728.7L1271.0 728.5L1272.5 728.3L1274.0 728.1L1275.5 727.9L1277.0 727.7L1278.5 727.5L1280.0 727.3L1281.5 727.1L1283.0 726.9L1284.5 726.8L1286.0 726.5L1287.5 726.3L1289.0 726.1L1290.5 725.9L1292.0 725.7L1293.5 725.5L1295.0 725.4L1296.5 725.2L1298.0 725.1L1299.5 725.0L1301.0 724.9L1302.5 724.9L1304.0 724.8L1305.5 724.8L1307.0 724.7L1308.5 724.6L1310.0 724.6L1311.5 724.5L1313.0 724.5L1314.5 724.4L1316.0 724.3L1317.5 724.2L1319.0 724.1L1320.5 724.0L1322.0 723.9L1323.5 723.6L1325.0 723.3L1326.5 723.0L1328.0 722.6L1329.5 722.2L1331.0 721.8L1332.5 721.4L1334.0 720.9L1335.5 720.5L1337.0 720.1L1338.5 719.7L1340.0 719.3L1341.5 718.8L1343.0 718.3L1344.5 717.9L1346.0 717.5L1347.5 717.1L1349.0 716.6L1350.5 715.9L1352.0 715.1L1353.5 714.2L1355.0 713.4L1356.5 712.6L1358.0 711.9L1359.5 711.2L1361.0 710.5L1362.5 709.8L1364.0 709.0L1365.5 708.3L1367.0 707.5L1368.5 706.8L1370.0 706.0L1371.5 705.2L1373.0 704.4L1374.5 703.7L1376.0 703.0L1377.5 702.2L1379.0 701.5L1380.5 700.8L1382.0 700.1L1383.5 699.5L1385.0 698.8L1386.5 698.1L1388.0 697.4L1389.5 696.8L1391.0 696.1L1392.5 695.5L1394.0 694.9L1395.5 694.2L1397.0 693.6L1398.5 692.9L1400.0 692.2L1401.5 691.4L1403.0 690.6L1404.5 689.8L1406.0 688.9L1407.5 688.1L1409.0 687.1L1410.5 686.2L1412.0 685.3L1413.5 684.3L1415.0 683.3L1416.5 682.3L1418.0 681.2L1419.5 680.1L1421.0 679.0L1422.5 678.0L1424.0 676.9L1425.5 675.9L1427.0 674.8L1428.5 673.8L1430.0 672.9L1431.5 671.9L1433.0 670.9L1434.5 669.9L1436.0 668.9L1437.5 667.9L1439.0 666.9L1440.5 665.8L1442.0 664.7L1443.5 663.6L1445.0 662.5L1446.5 661.3L1448.0 660.2L1449.5 659.1L1451.0 658.1L1452.5 657.0L1454.0 656.0L1455.5 655.0L1457.0 654.0L1458.5 652.9L1460.0 651.8L1461.5 650.7L1463.0 649.4L1464.5 648.1L1466.0 646.8L1467.5 645.4L1469.0 644.1L1470.5 642.8L1472.0 641.5L1473.5 640.3L1475.0 639.1L1476.5 637.9L1478.0 636.7L1479.5 635.5L1481.0 634.3L1482.5 633.0L1484.0 631.8L1485.5 630.5L1487.0 629.2L1488.5 627.8L1490.0 626.5L1491.5 625.3L1493.0 624.0L1494.5 622.9L1496.0 621.8L1497.5 620.7L1499.0 619.5L1500.5 618.4L1502.0 617.3L1503.5 616.2L1505.0 615.0L1506.5 613.9L1508.0 612.9L1509.5 611.8L1511.0 610.8L1512.5 609.8L1514.0 609.0L1515.5 608.2L1517.0 607.5L1518.5 606.9L1520.0 606.2L1521.5 605.6L1523.0 605.0L1524.5 604.3L1526.0 603.7L1527.5 603.0L1529.0 602.3L1530.5 601.5L1532.0 600.6L1533.5 599.7L1535.0 598.8L1536.5 598.0L1538.0 597.1L1539.5 596.2L1541.0 595.4L1542.5 594.5L1544.0 593.6L1545.5 592.7L1547.0 591.8L1548.5 590.9L1550.0 590.0L1551.5 589.1L1553.0 588.1L1554.5 587.2L1556.0 586.3L1557.5 585.3L1559.0 584.4L1560.5 583.5L1562.0 582.5L1563.5 581.6L1565.0 580.6L1566.5 579.7L1568.0 578.7L1569.5 577.7L1571.0 576.7L1572.5 575.6L1574.0 574.5L1575.5 573.4L1577.0 572.2L1578.5 571.1L1580.0 569.9L1581.5 568.7L1583.0 567.6L1584.5 566.3L1586.0 565.1L1587.5 563.9L1589.0 562.6L1590.5 561.4L1592.0 560.1L1593.5 558.8L1595.0 557.6L1596.5 556.3L1598.0 555.0L1599.5 553.7L1601.0 552.3L1602.5 551.0L1604.0 549.7L1605.5 548.4L1607.0 547.0L1608.5 545.7L1610.0 544.3L1611.5 543.0L1613.0 541.6L1614.5 540.3L1616.0 538.9L1617.5 537.6L1619.0 536.2L1620.5 534.9L1622.0 533.5L1623.5 532.2L1625.0 530.8L1626.5 529.5L1628.0 528.2L1629.5 526.8L1631.0 525.5L1632.5 524.2L1634.0 522.9L1635.5 521.6L1637.0 520.3L1638.5 519.0L1640.0 517.7L1641.5 516.3L1643.0 515.0L1644.5 513.8L1646.0 512.5L1647.5 511.3L1649.0 510.1L1650.5 508.9L1652.0 507.8L1653.5 506.5L1655.0 505.3L1656.5 503.9L1658.0 502.5L1659.5 501.0L1661.0 499.4L1662.5 497.9L1664.0 496.4L1665.5 494.9L1667.0 493.5L1668.5 492.2L1670.0 490.8L1671.5 489.5L1673.0 488.2L1674.5 486.8L1676.0 485.5L1677.5 484.1L1679.0 482.8L1680.5 481.4L1682.0 480.1L1683.5 478.7L1685.0 477.4L1686.5 476.0L1688.0 474.6L1689.5 473.3L1691.0 471.9L1692.5 470.6L1694.0 469.3L1695.5 467.9L1697.0 466.6L1698.5 465.3L1700.0 464.0L1701.5 463.0L1703.0 462.1L1704.5 461.4L1706.0 460.9L1707.5 460.5L1709.0 460.1L1710.5 459.7L1712.0 459.2L1713.5 458.5L1715.0 457.6L1716.5 456.7L1718.0 455.6L1719.5 454.6L1721.0 453.6L1722.5 452.8L1723.7 452.4"/>
<path fill="none" stroke="#2196f3" stroke-width="1.1" stroke-linejoin="round" d="M11.0 528.1L12.5 527.9L14.0 527.7L15.5 527.5L17.0 527.4L18.5 527.3L20.0 527.3L21.5 527.3L23.0 527.3L24.5 527.3L26.0 527.3L27.5 527.4L29.0 527.6L30.5 527.9L32.0 528.3L33.5 528.8L35.0 529.5L36.5 530.2L38.0 531.1L39.5 532.1L41.0 533.1L42.5 534.3L44.0 535.5L45.5 536.8L47.0 538.1L48.5 539.5L50.0 540.7L51.5 541.9L53.0 543.0L54.5 544.2L56.0 545.3L57.5 546.5L59.0 547.8L60.5 549.1L62.0 550.5L63.5 551.8L65.0 552.9L66.5 553.9L68.0 554.7L69.5 555.4L71.0 556.1L72.5 556.8L74.0 557.4L75.5 558.0L77.0 558.6L78.5 559.1L80.0 559.7L81.5 560.2L83.0 560.7L84.5 561.3L86.0 561.9L87.5 562.5L89.0 563.1L90.5 563.8L92.0 564.5L93.5 565.3L95.0 566.1L96.5 566.9L98.0 567.8L99.5 568.7L101.0 569.6L102.5 570.7L104.0 571.8L105.5 573.1L107.0 574.6L108.5 576.1L110.0 577.7L111.5 579.4L113.0 581.0L114.5 582.7L116.0 584.4L117.5 586.1L119.0 587.8L120.5 589.4L122.0 591.1L123.5 592.6L125.0 594.0L126.5 595.1L128.0 596.0L129.5 596.8L131.0 597.5L132.5 598.0L134.0 598.5L135.5 599.0L137.0 599.4L138.5 599.8L140.0 600.1L141.5 600.4L143.0 600.6L144.5 600.9L146.0 601.1L147.5 601.4L149.0 601.7L150.5 601.9L152.0 602.2L153.5 602.4L155.0 602.6L156.5 602.8L158.0 603.0L159.5 603.2L161.0 603.3L162.5 603.5L164.0 603.7L165.5 603.9L167.0 604.1L168.5 604.3L170.0 604.5L171.5 604.8L173.0 605.0L174.5 605.2L176.0 605.5L177.5 605.7L179.0 606.0L180.5 606.2L182.0 606.3L183.5 606.4L185.0 606.3L186.5 606.2L188.0 606.1L189.5 605.8L191.0 605.6L192.5 605.4L194.0 605.1L195.5 604.9L197.0 604.7L198.5 604.4L200.0 604.2L201.5 603.9L203.0 603.6L204.5 603.3L206.0 603.0L207.5 602.7L209.0 602.4L210.5 602.1L212.0 601.9L213.5 601.7L215.0 601.6L216.5 601.4L218.0 601.3L219.5 601.2L221.0 601.0L222.5 600.9L224.0 600.7L225.5 600.6L227.0 600.4L228.5 600.3L230.0 600.1L231.5 599.9L233.0 599.7L234.5 599.4L236.0 599.2L237.5 598.9L239.0 598.7L240.5 598.5L242.0 598.3L243.5 598.1L245.0 597.9L246.5 597.7L248.0 597.4L249.5 597.1L251.0 596.7L252.5 596.3L254.0 595.7L255.5 595.2L257.0 594.8L258.5 594.5L260.0 594.3L261.5 594.1L263.0 594.0L264.5 593.9L266.0 593.9L267.5 594.2L269.0 594.6L270.5 595.3L272.0 596.1L273.5 597.0L275.0 597.9L276.5 598.8L278.0 599.8L279.5 600.8L281.0 601.7L282.5 602.7L284.0 603.6L285.5 604.6L287.0 605.5L288.5 606.4L290.0 607.3L291.5 608.3L293.0 609.2L294.5 610.2L296.0 611.2L297.5 612.2L299.0 613.3L300.5 614.4L302.0 615.6L303.5 616.9L305.0 618.2L306.5 619.4L308.0 620.5L309.5 621.6L311.0 622.6L312.5 623.6L314.0 624.5L315.5 625.3L317.0 626.1L318.5 626.8L320.0 627.6L321.5 628.3L323.0 629.1L324.5 629.9L326.0 630.8L327.5 631.7L329.0 632.7L330.5 633.7L332.0 634.6L333.5 635.5L335.0 636.3L336.5 637.1L338.0 637.8L339.5 638.6L341.0 639.3L342.5 640.0L344.0 640.8L345.5 641.5L347.0 642.3L348.5 643.0L350.0 643.8L351.5 644.5L353.0 645.3L354.5 646.0L356.0 646.8L357.5 647.5L359.0 648.3L360.5 649.0L362.0 649.8L363.5 650.5L365.0 651.2L366.5 651.9L368.0 652.7L369.5 653.4L371.0 654.2L372.5 655.2L374.0 656.2L375.5 657.3L377.0 658.5L378.5 659.6L380.0 660.8L381.5 661.9L383.0 662.9L384.5 663.9L386.0 664.9L387.5 665.8L389.0 666.7L390.5 667.5L392.0 668.4L393.5 669.1L395.0 669.9L396.5 670.6L398.0 671.3L399.5 672.1L401.0 672.9L402.5 673.8L404.0 674.8L405.5 675.8L407.0 676.8L408.5 677.7L410.0 678.5L411.5 679.2L413.0 679.8L414.5 680.4L416.0 680.9L417.5 681.4L419.0 682.0L420.5 682.5L422.0 683.0L423.5 683.6L425.0 684.1L426.5 684.7L428.0 685.3L429.5 686.0L431.0 686.8L432.5 687.6L434.0 688.6L435.5 689.5L437.0 690.5L438.5 691.5L440.0 692.5L441.5 693.4L443.0 694.3L444.5 695.2L446.0 696.2L447.5 697.1L449.0 698.1L450.5 699.2L452.0 700.2L453.5 701.3L455.0 702.5L456.5 703.7L458.0 705.0L459.5 706.3L461.0 707.8L462.5 709.3L464.0 710.9L465.5 712.4L467.0 713.8L468.5 715.2L470.0 716.4L471.5 717.5L473.0 718.7L474.5 719.7L476.0 720.8L477.5 721.9L479.0 723.1L480.5 724.2L482.0 725.3L483.5 726.4L485.0 727.6L486.5 728.7L488.0 729.8L489.5 731.0L491.0 732.2L492.5 733.3L494.0 734.5L495.5 735.5L497.0 736.4L498.5 737.2L500.0 738.0L501.5 738.7L503.0 739.4L504.5 740.2L506.0 741.0L507.5 741.9L509.0 742.8L510.5 743.8L512.0 744.7L513.5 745.7L515.0 746.5L516.5 747.3L518.0 748.0L519.5 748.7L521.0 749.3L522.5 749.9L524.0 750.5L525.5 751.2L527.0 751.9L528.5 752.6L530.0 753.3L531.5 753.9L533.0 754.6L534.5 755.2L536.0 755.7L537.5 756.2L539.0 756.7L540.5 757.2L542.0 757.6L543.5 758.0L545.0 758.4L546.5 758.8L548.0 759.2L549.5 759.6L551.0 760.0L552.5 760.3L554.0 760.6L555.5 760.9L557.0 761.1L558.5 761.4L560.0 761.6L561.5 761.8L563.0 762.0L564.5 762.2L566.0 762.4L567.5 762.6L569.0 762.8L570.5 763.0L572.0 763.1L573.5 763.3L575.0 763.5L576.5 763.7L578.0 763.9L579.5 764.1L581.0 764.3L582.5 764.5L584.0 764.6L585.5 764.7L587.0 764.8L588.5 764.9L590.0 764.9L591.5 764.9L593.0 765.0L594.5 764.9L596.0 764.9L597.5 764.8L599.0 764.7L600.5 764.6L602.0 764.4L603.5 764.1L605.0 763.6L606.5 763.2L608.0 762.8L609.5 762.6L611.0 762.5L612.5 762.6L614.0 762.8L615.5 763.0L617.0 763.2L618.5 763.4L620.0 763.7L621.5 764.0L623.0 764.3L624.5 764.6L626.0 765.0L627.5 765.3L629.0 765.6L630.5 765.9L632.0 766.2L633.5 766.4L635.0 766.7L636.5 766.9L638.0 767.2L639.5 767.4L641.0 767.6L642.5 767.8L644.0 768.0L645.5 768.2L647.0 768.5L648.5 768.7L650.0 769.0L651.5 769.2L653.0 769.5L654.5 769.9L656.0 770.2L657.5 770.6L659.0 771.1L660.5 771.5L662.0 772.0L663.5 772.5L665.0 772.9L666.5 773.4L668.0 773.8L669.5 774.3L671.0 774.7L672.5 775.1L674.0 775.5L675.5 775.9L677.0 776.3L678.5 776.7L680.0 777.0L681.5 777.3L683.0 777.6L684.5 777.9L686.0 778.2L687.5 778.5L689.0 778.8L690.5 779.1L692.0 779.4L693.5 779.7L695.0 780.0L696.5 780.3L698.0 780.6L699.5 780.9L701.0 781.2L702.5 781.5L704.0 781.8L705.5 782.2L707.0 782.5L708.5 782.7L710.0 782.8L711.5 783.0L713.0 783.0L714.5 783.1L716.0 783.1L717.5 783.1L719.0 783.1L720.5 783.1L722.0 783.1L723.5 783.1L725.0 783.1L726.5 783.2L728.0 783.2L729.5 783.3L731.0 783.4L732.5 783.5L734.0 783.5L735.5 783.6L737.0 783.7L738.5 783.8L740.0 783.9L741.5 784.0L743.0 784.1L744.5 784.2L746.0 784.3L747.5 784.3L749.0 784.3L750.5 784.4L752.0 784.4L753.5 784.3L755.0 784.3L756.5 784.1L758.0 783.8L759.5 783.4L761.0 782.9L762.5 782.4L764.0 782.0L765.5 781.5L767.0 781.0L768.5 780.6L770.0 780.2L771.5 779.8L773.0 779.5L774.5 779.2L776.0 778.9L777.5 778.6L779.0 778.4L780.5 778.1L782.0 777.9L783.5 777.6L785.0 777.4L786.5 777.2L788.0 777.0L789.5 776.8L791.0 776.6L792.5 776.4L794.0 776.2L795.5 775.9L797.0 775.7L798.5 775.5L800.0 775.3L801.5 775.1L803.0 774.9L804.5 774.6L806.0 774.4L807.5 774.1L809.0 773.9L810.5 773.6L812.0 773.3L813.5 773.0L815.0 772.7L816.5 772.2L818.0 771.7L819.5 771.1L821.0 770.5L822.5 769.9L824.0 769.4L825.5 768.9L827.0 768.5L828.5 768.2L830.0 767.9L831.5 767.5L833.0 767.2L834.5 766.9L836.0 766.6L837.5 766.3L839.0 766.0L840.5 765.7L842.0 765.4L843.5 765.1L845.0 764.8L846.5 764.5L848.0 764.2L849.5 764.0L851.0 763.7L852.5 763.5L854.0 763.3L855.5 763.2L857.0 763.1L858.5 763.1L860.0 763.0L861.5 763.0L863.0 763.0L864.5 763.1L866.0 763.3L867.5 763.4L869.0 763.5L870.5 763.7L872.0 763.8L873.5 763.9L875.0 764.0L876.5 764.0L878.0 764.0L879.5 763.9L881.0 763.7L882.5 763.6L884.0 763.5L885.5 763.3L887.0 763.1L888.5 762.9L890.0 762.6L891.5 762.3L893.0 762.0L894.5 761.7L896.0 761.5L897.5 761.3L899.0 761.2L900.5 761.0L902.0 760.8L903.5 760.6L905.0 760.4L906.5 760.1L908.0 759.8L909.5 759.5L911.0 759.1L912.5 758.8L914.0 758.5L915.5 758.2L917.0 757.9L918.5 757.6L920.0 757.4L921.5 757.1L923.0 756.8L924.5 756.4L926.0 756.1L927.5 755.8L929.0 755.4L930.5 755.0L932.0 754.7L933.5 754.4L935.0 754.1L936.5 753.9L938.0 753.7L939.5 753.6L941.0 753.5L942.5 753.4L944.0 753.3L945.5 753.2L947.0 753.2L948.5 753.1L950.0 753.1L951.5 753.1L953.0 753.1L954.5 753.1L956.0 753.2L957.5 753.2L959.0 753.3L960.5 753.5L962.0 753.7L963.5 753.8L965.0 754.0L966.5 754.1L968.0 754.2L969.5 754.3L971.0 754.3L972.5 754.3L974.0 754.3L975.5 754.2L977.0 754.1L978.5 753.9L980.0 753.8L981.5 753.6L983.0 753.4L984.5 753.2L986.0 753.0L987.5 752.7L989.0 752.3L990.5 752.0L992.0 751.5L993.5 751.1L995.0 750.7L996.5 750.2L998.0 749.8L999.5 749.3L1001.0 748.9L1002.5 748.5L1004.0 748.1L1005.5 747.7L1007.0 747.4L1008.5 747.0L1010.0 746.6L1011.5 746.2L1013.0 745.7L1014.5 745.2L1016.0 744.7L1017.5 744.3L1019.0 743.8L1020.5 743.4L1022.0 743.0L1023.5 742.6L1025.0 742.2L1026.5 741.8L1028.0 741.4L1029.5 741.0L1031.0 740.6L1032.5 740.2L1034.0 739.7L1035.5 739.3L1037.0 738.8L1038.5 738.4L1040.0 738.0L1041.5 737.6L1043.0 737.3L1044.5 737.0L1046.0 736.7L1047.5 736.4L1049.0 736.1L1050.5 735.8L1052.0 735.6L1053.5 735.2L1055.0 734.9L1056.5 734.5L1058.0 734.1L1059.5 733.7L1061.0 733.2L1062.5 732.7L1064.0 732.3L1065.5 731.9L1067.0 731.5L1068.5 731.1L1070.0 730.7L1071.5 730.3L1073.0 729.9L1074.5 729.5L1076.0 729.1L1077.5 728.7L1079.0 728.3L1080.5 727.9L1082.0 727.5L1083.5 727.1L1085.0 726.7L1086.5 726.3L1088.0 725.8L1089.5 725.3L1091.0 724.9L1092.5 724.5L1094.0 724.1L1095.5 723.8L1097.0 723.5L1098.5 723.3L1100.0 723.1L1101.5 722.9L1103.0 722.7L1104.5 722.6L1106.0 722.5L1107.5 722.4L1109.0 722.3L1110.5 722.3L1112.0 722.4L1113.5 722.4L1115.0 722.5L1116.5 722.6L1118.0 722.8L1119.5 723.0L1121.0 723.3L1122.5 723.7L1124.0 724.1L1125.5 724.5L1127.0 725.1L1128.5 725.6L1130.0 726.2L1131.5 726.7L1133.0 727.2L1134.5 727.7L1136.0 728.2L1137.5 728.6L1139.0 728.9L1140.5 729.1L1142.0 729.2L1143.5 729.3L1145.0 729.4L1146.5 729.4L1148.0 729.5L1149.5 729.6L1151.0 729.6L1152.5 729.7L1154.0 729.8L1155.5 729.9L1157.0 730.1L1158.5 730.4L1160.0 730.8L1161.5 731.2L1163.0 731.5L1164.5 731.9L1166.0 732.3L1167.5 732.7L1169.0 733.1L1170.5 733.5L1172.0 733.9L1173.5 734.3L1175.0 734.7L1176.5 735.2L1178.0 735.6L1179.5 736.1L1181.0 736.6L1182.5 737.2L1184.0 737.7L1185.5 738.4L1187.0 739.0L1188.5 739.8L1190.0 740.5L1191.5 741.3L1193.0 742.0L1194.5 742.7L1196.0 743.4L1197.5 744.0L1199.0 744.6L1200.5 745.1L1202.0 745.6L1203.5 746.1L1205.0 746.5L1206.5 746.8L1208.0 747.1L1209.5 747.4L1211.0 747.7L1212.5 748.0L1214.0 748.3L1215.5 748.5L1217.0 748.8L1218.5 748.9L1220.0 749.1L1221.5 749.1L1223.0 749.1L1224.5 749.0L1226.0 748.8L1227.5 748.6L1229.0 748.3L1230.5 747.9L1232.0 747.5L1233.5 747.0L1235.0 746.4L1236.5 745.8L1238.0 745.1L1239.5 744.4L1241.0 743.8L1242.5 743.3L1244.0 742.7L1245.5 742.1L1247.0 741.6L1248.5 741.0L1250.0 740.5L1251.5 739.9L1253.0 739.3L1254.5 738.8L1256.0 738.2L1257.5 737.6L1259.0 737.1L1260.5 736.5L1262.0 736.0L1263.5 735.4L1265.0 734.7L1266.5 734.1L1268.0 733.4L1269.5 732.6L1271.0 731.8L1272.5 731.0L1274.0 730.2L1275.5 729.4L1277.0 728.6L1278.5 727.8L1280.0 727.1L1281.5 726.4L1283.0 725.8L1284.5 725.3L1286.0 724.7L1287.5 724.2L1289.0 723.6L1290.5 723.0L1292.0 722.5L1293.5 721.9L1295.0 721.3L1296.5 720.8L1298.0 720.2L1299.5 719.6L1301.0 719.1L1302.5 718.5L1304.0 718.0L1305.5 717.5L1307.0 717.0L1308.5 716.5L1310.0 716.1L1311.5 715.6L1313.0 715.1L1314.5 714.7L1316.0 714.2L1317.5 713.7L1319.0 713.2L1320.5 712.6L1322.0 711.8L1323.5 710.8L1325.0 709.5L1326.5 708.1L1328.0 706.7L1329.5 705.2L1331.0 703.6L1332.5 702.0L1334.0 700.3L1335.5 698.7L1337.0 697.0L1338.5 695.4L1340.0 693.8L1341.5 692.3L1343.0 690.8L1344.5 689.4L1346.0 688.0L1347.5 686.5L1349.0 684.9L1350.5 683.1L1352.0 681.0L1353.5 678.5L1355.0 676.0L1356.5 673.4L1358.0 671.0L1359.5 668.8L1361.0 667.0L1362.5 665.3L1364.0 663.7L1365.5 662.2L1367.0 660.8L1368.5 659.5L1370.0 658.3L1371.5 657.2L1373.0 656.2L1374.5 655.3L1376.0 654.6L1377.5 654.0L1379.0 653.4L1380.5 653.0L1382.0 652.5L1383.5 652.1L1385.0 651.7L1386.5 651.2L1388.0 650.6L1389.5 650.0L1391.0 649.3L1392.5 648.4L1394.0 647.5L1395.5 646.5L1397.0 645.5L1398.5 644.4L1400.0 643.2L1401.5 641.9L1403.0 640.4L1404.5 638.9L1406.0 637.5L1407.5 636.3L1409.0 635.4L1410.5 634.5L1412.0 633.7L1413.5 632.8L1415.0 631.8L1416.5 630.8L1418.0 629.6L1419.5 628.3L1421.0 627.0L1422.5 625.5L1424.0 623.8L1425.5 622.1L1427.0 620.4L1428.5 618.7L1430.0 617.1L1431.5 615.6L1433.0 614.1L1434.5 612.6L1436.0 611.1L1437.5 609.6L1439.0 608.1L1440.5 606.6L1442.0 605.1L1443.5 603.6L1445.0 602.0L1446.5 600.4L1448.0 598.6L1449.5 596.9L1451.0 595.1L1452.5 593.4L1454.0 591.6L1455.5 589.8L1457.0 588.0L1458.5 586.1L1460.0 584.3L1461.5 582.6L1463.0 581.1L1464.5 579.7L1466.0 578.3L1467.5 577.1L1469.0 576.0L1470.5 574.9L1472.0 573.8L1473.5 572.8L1475.0 571.8L1476.5 570.8L1478.0 569.8L1479.5 568.8L1481.0 567.8L1482.5 566.8L1484.0 565.8L1485.5 564.8L1487.0 563.8L1488.5 562.9L1490.0 562.2L1491.5 561.5L1493.0 560.9L1494.5 560.3L1496.0 559.6L1497.5 559.0L1499.0 558.5L1500.5 558.0L1502.0 557.6L1503.5 557.2L1505.0 556.9L1506.5 556.5L1508.0 556.2L1509.5 555.8L1511.0 555.3L1512.5 554.9L1514.0 554.4L1515.5 553.9L1517.0 553.5L1518.5 553.0L1520.0 552.7L1521.5 552.3L1523.0 551.9L1524.5 551.6L1526.0 551.2L1527.5 550.7L1529.0 550.2L1530.5 549.7L1532.0 549.1L1533.5 548.5L1535.0 547.9L1536.5 547.3L1538.0 546.7L1539.5 546.1L1541.0 545.5L1542.5 544.9L1544.0 544.2L1545.5 543.6L1547.0 542.9L1548.5 542.3L1550.0 541.7L1551.5 541.0L1553.0 540.3L1554.5 539.5L1556.0 538.7L1557.5 537.9L1559.0 537.0L1560.5 536.3L1562.0 535.5L1563.5 534.7L1565.0 534.0L1566.5 533.3L1568.0 532.6L1569.5 531.9L1571.0 531.2L1572.5 530.5L1574.0 529.8L1575.5 529.2L1577.0 528.5L1578.5 527.8L1580.0 527.1L1581.5 526.4L1583.0 525.6L1584.5 524.8L1586.0 524.0L1587.5 523.1L1589.0 522.2L1590.5 521.2L1592.0 520.1L1593.5 518.8L1595.0 517.4L1596.5 515.9L1598.0 514.4L1599.5 513.0L1601.0 511.9L1602.5 510.9L1604.0 509.9L1605.5 509.0L1607.0 508.1L1608.5 507.1L1610.0 506.0L1611.5 504.9L1613.0 503.8L1614.5 502.6L1616.0 501.3L1617.5 500.1L1619.0 498.8L1620.5 497.4L1622.0 496.1L1623.5 494.8L1625.0 493.6L1626.5 492.3L1628.0 491.0L1629.5 489.5L1631.0 487.8L1632.5 485.7L1634.0 483.3L1635.5 480.8L1637.0 478.2L1638.5 475.8L1640.0 473.4L1641.5 471.1L1643.0 468.8L1644.5 466.6L1646.0 464.5L1647.5 462.6L1649.0 460.6L1650.5 458.8L1652.0 457.0L1653.5 455.1L1655.0 453.3L1656.5 451.5L1658.0 449.7L1659.5 447.8L1661.0 445.5L1662.5 443.0L1664.0 440.2L1665.5 437.1L1667.0 434.0L1668.5 431.0L1670.0 428.1L1671.5 425.3L1673.0 422.6L1674.5 420.1L1676.0 417.7L1677.5 415.6L1679.0 413.6L1680.5 411.8L1682.0 409.9L1683.5 407.9L1685.0 405.7L1686.5 403.1L1688.0 400.4L1689.5 397.8L1691.0 395.3L1692.5 393.0L1694.0 391.1L1695.5 389.3L1697.0 387.6L1698.5 386.1L1700.0 384.8L1701.5 383.5L1703.0 382.3L1704.5 381.2L1706.0 380.2L1707.5 379.2L1709.0 378.2L1710.5 377.3L1712.0 376.4L1713.5 375.4L1715.0 374.3L1716.5 373.0L1718.0 371.9L1719.5 371.1L1721.0 370.8L1722.5 370.7L1723.7 370.7"/>
<path fill="none" stroke="#673ab7" stroke-width="1.1" stroke-linejoin="round" d="M11.0 526.6L12.5 526.3L14.0 525.9L15.5 525.4L17.0 525.0L18.5 524.7L20.0 524.4L21.5 524.2L23.0 524.4L24.5 524.9L26.0 525.7L27.5 526.8L29.0 528.0L30.5 529.3L32.0 530.6L33.5 531.9L35.0 533.4L36.5 534.9L38.0 536.6L39.5 538.5L41.0 540.7L42.5 543.0L44.0 545.4L45.5 547.8L47.0 550.3L48.5 552.8L50.0 555.2L51.5 557.4L53.0 559.5L54.5 561.6L56.0 563.6L57.5 565.6L59.0 567.6L60.5 569.7L62.0 571.6L63.5 573.4L65.0 575.0L66.5 576.5L68.0 578.0L69.5 579.6L71.0 581.2L72.5 582.9L74.0 584.6L75.5 586.3L77.0 588.0L78.5 589.7L80.0 591.4L81.5 593.3L83.0 595.3L84.5 597.5L86.0 599.7L87.5 601.9L89.0 603.9L90.5 605.7L92.0 607.4L93.5 609.1L95.0 610.7L96.5 612.3L98.0 613.9L99.5 615.4L101.0 616.9L102.5 618.3L104.0 619.6L105.5 620.8L107.0 621.9L108.5 623.0L110.0 624.2L111.5 625.4L113.0 626.7L114.5 628.0L116.0 629.3L117.5 630.6L119.0 631.8L120.5 632.9L122.0 634.0L123.5 634.8L125.0 635.3L126.5 635.4L128.0 635.4L129.5 635.2L131.0 634.8L132.5 634.2L134.0 633.1L135.5 631.7L137.0 630.1L138.5 628.6L140.0 627.2L141.5 625.9L143.0 624.8L144.5 623.7L146.0 622.7L147.5 621.6L149.0 620.5L150.5 619.1L152.0 617.5L153.5 615.8L155.0 613.9L156.5 612.1L158.0 610.3L159.5 608.5L161.0 606.5L162.5 604.5L164.0 602.3L165.5 599.9L167.0 597.3L168.5 594.7L170.0 592.0L171.5 589.2L173.0 586.5L174.5 584.0L176.0 581.7L177.5 579.6L179.0 577.7L180.5 575.8L182.0 574.1L183.5 572.5L185.0 571.3L186.5 570.5L188.0 570.0L189.5 569.7L191.0 569.7L192.5 570.0L194.0 570.7L195.5 571.7L197.0 572.9L198.5 574.0L200.0 575.1L201.5 576.1L203.0 576.8L204.5 577.3L206.0 577.6L207.5 577.8L209.0 578.1L210.5 578.5L212.0 578.9L213.5 579.6L215.0 580.5L216.5 581.9L218.0 583.5L219.5 585.4L221.0 587.2L222.5 588.9L224.0 590.4L225.5 591.7L227.0 592.8L228.5 593.7L230.0 594.5L231.5 595.1L233.0 595.5L234.5 595.8L236.0 596.0L237.5 596.2L239.0 596.5L240.5 596.7L242.0 597.0L243.5 597.5L245.0 598.3L246.5 599.5L248.0 600.8L249.5 602.2L251.0 603.5L252.5 604.8L254.0 606.0L255.5 607.1L257.0 608.2L258.5 609.2L260.0 610.2L261.5 611.1L263.0 612.1L264.5 613.1L266.0 614.2L267.5 615.5L269.0 617.0L270.5 618.5L272.0 619.8L273.5 621.0L275.0 622.1L276.5 623.1L278.0 624.2L279.5 625.5L281.0 626.9L282.5 628.5L284.0 630.1L285.5 631.9L287.0 633.6L288.5 635.3L290.0 637.0L291.5 638.5L293.0 640.0L294.5 641.6L296.0 643.2L297.5 644.9L299.0 646.4L300.5 647.7L302.0 648.7L303.5 649.5L305.0 650.2L306.5 650.8L308.0 651.4L309.5 652.0L311.0 652.5L312.5 653.0L314.0 653.4L315.5 653.7L317.0 653.9L318.5 654.0L320.0 654.2L321.5 654.4L323.0 654.6L324.5 654.9L326.0 655.3L327.5 655.8L329.0 656.4L330.5 657.1L332.0 657.7L333.5 658.3L335.0 658.9L336.5 659.5L338.0 660.0L339.5 660.4L341.0 660.6L342.5 660.5L344.0 660.4L345.5 660.2L347.0 660.1L348.5 660.1L350.0 660.3L351.5 660.7L353.0 661.2L354.5 661.7L356.0 662.3L357.5 663.0L359.0 663.8L360.5 664.6L362.0 665.3L363.5 665.9L365.0 666.4L366.5 666.9L368.0 667.4L369.5 667.9L371.0 668.3L372.5 668.8L374.0 669.3L375.5 669.9L377.0 671.1L378.5 672.8L380.0 675.1L381.5 677.5L383.0 679.6L384.5 681.2L386.0 682.2L387.5 683.0L389.0 683.7L390.5 684.4L392.0 685.3L393.5 686.2L395.0 687.1L396.5 688.2L398.0 689.4L399.5 690.7L401.0 692.1L402.5 693.6L404.0 695.2L405.5 696.6L407.0 698.0L408.5 699.4L410.0 700.6L411.5 701.8L413.0 702.8L414.5 703.6L416.0 704.4L417.5 705.1L419.0 705.9L420.5 706.6L422.0 707.3L423.5 708.0L425.0 708.8L426.5 709.6L428.0 710.6L429.5 711.8L431.0 713.0L432.5 714.3L434.0 715.6L435.5 716.9L437.0 718.1L438.5 719.4L440.0 720.6L441.5 721.9L443.0 723.1L444.5 724.4L446.0 725.6L447.5 726.9L449.0 728.1L450.5 729.3L452.0 730.5L453.5 731.8L455.0 733.2L456.5 734.8L458.0 736.7L459.5 738.8L461.0 740.8L462.5 742.6L464.0 744.2L465.5 745.6L467.0 746.9L468.5 748.1L470.0 749.3L471.5 750.5L473.0 751.7L474.5 753.0L476.0 754.2L477.5 755.5L479.0 756.8L480.5 758.1L482.0 759.3L483.5 760.5L485.0 761.6L486.5 762.7L488.0 763.7L489.5 764.7L491.0 765.7L492.5 766.7L494.0 767.8L495.5 768.8L497.0 769.8L498.5 770.6L500.0 771.4L501.5 772.0L503.0 772.5L504.5 772.9L506.0 773.3L507.5 773.7L509.0 774.0L510.5 774.2L512.0 774.4L513.5 774.3L515.0 774.0L516.5 773.3L518.0 772.5L519.5 771.6L521.0 770.8L522.5 770.0L524.0 769.3L525.5 768.7L527.0 768.1L528.5 767.8L530.0 767.5L531.5 767.2L533.0 767.1L534.5 766.9L536.0 766.8L537.5 766.8L539.0 766.7L540.5 766.7L542.0 766.7L543.5 766.7L545.0 766.7L546.5 766.8L548.0 766.8L549.5 766.7L551.0 766.4L552.5 765.8L554.0 765.1L555.5 764.3L557.0 763.5L558.5 762.7L560.0 761.8L561.5 760.9L563.0 760.1L564.5 759.2L566.0 758.3L567.5 757.4L569.0 756.7L570.5 756.3L572.0 756.2L573.5 756.1L575.0 756.1L576.5 756.1L578.0 756.2L579.5 756.3L581.0 756.5L582.5 756.8L584.0 757.1L585.5 757.3L587.0 757.5L588.5 757.6L590.0 757.7L591.5 757.7L593.0 757.8L594.5 757.8L596.0 757.8L597.5 757.8L599.0 757.7L600.5 757.6L602.0 757.5L603.5 757.2L605.0 756.9L606.5 756.7L608.0 756.6L609.5 756.6L611.0 756.9L612.5 757.5L614.0 758.5L615.5 759.8L617.0 761.4L618.5 763.1L620.0 764.7L621.5 766.2L623.0 767.5L624.5 768.7L626.0 769.9L627.5 771.0L629.0 772.1L630.5 773.1L632.0 774.1L633.5 775.2L635.0 776.2L636.5 777.3L638.0 778.3L639.5 779.4L641.0 780.3L642.5 781.3L644.0 782.2L645.5 783.1L647.0 784.0L648.5 784.9L650.0 785.8L651.5 786.7L653.0 787.6L654.5 788.5L656.0 789.3L657.5 790.1L659.0 790.9L660.5 791.7L662.0 792.4L663.5 793.1L665.0 793.7L666.5 794.3L668.0 794.8L669.5 795.3L671.0 795.7L672.5 796.0L674.0 796.3L675.5 796.6L677.0 796.9L678.5 797.2L680.0 797.4L681.5 797.6L683.0 797.6L684.5 797.6L686.0 797.6L687.5 797.6L689.0 797.4L690.5 797.1L692.0 796.7L693.5 796.2L695.0 795.7L696.5 795.2L698.0 794.6L699.5 794.1L701.0 793.6L702.5 793.1L704.0 792.6L705.5 792.2L707.0 791.7L708.5 791.3L710.0 790.8L711.5 790.2L713.0 789.5L714.5 788.6L716.0 787.6L717.5 786.5L719.0 785.5L720.5 784.5L722.0 783.6L723.5 782.7L725.0 781.8L726.5 780.9L728.0 780.1L729.5 779.2L731.0 778.3L732.5 777.3L734.0 776.3L735.5 775.3L737.0 774.3L738.5 773.4L740.0 772.5L741.5 771.7L743.0 770.8L744.5 770.0L746.0 769.3L747.5 768.5L749.0 767.9L750.5 767.3L752.0 766.7L753.5 766.1L755.0 765.6L756.5 765.0L758.0 764.3L759.5 763.7L761.0 763.0L762.5 762.4L764.0 761.7L765.5 761.1L767.0 760.7L768.5 760.4L770.0 760.2L771.5 760.1L773.0 760.0L774.5 760.2L776.0 760.4L777.5 760.8L779.0 761.3L780.5 761.7L782.0 762.2L783.5 762.6L785.0 763.1L786.5 763.6L788.0 764.0L789.5 764.5L791.0 764.9L792.5 765.4L794.0 765.9L795.5 766.4L797.0 766.8L798.5 767.2L800.0 767.4L801.5 767.6L803.0 767.8L804.5 767.9L806.0 768.1L807.5 768.3L809.0 768.5L810.5 768.7L812.0 768.9L813.5 769.1L815.0 769.3L816.5 769.5L818.0 769.8L819.5 770.2L821.0 770.5L822.5 770.7L824.0 770.8L825.5 770.7L827.0 770.5L828.5 770.1L830.0 769.8L831.5 769.3L833.0 768.8L834.5 768.2L836.0 767.6L837.5 767.0L839.0 766.4L840.5 765.7L842.0 765.1L843.5 764.5L845.0 763.9L846.5 763.3L848.0 762.8L849.5 762.2L851.0 761.6L852.5 761.1L854.0 760.6L855.5 760.2L857.0 759.8L858.5 759.4L860.0 759.1L861.5 758.8L863.0 758.5L864.5 758.2L866.0 757.9L867.5 757.7L869.0 757.6L870.5 757.4L872.0 757.3L873.5 757.3L875.0 757.3L876.5 757.5L878.0 757.8L879.5 758.3L881.0 758.6L882.5 758.6L884.0 758.4L885.5 758.1L887.0 757.8L888.5 757.6L890.0 757.5L891.5 757.3L893.0 757.2L894.5 757.0L896.0 756.8L897.5 756.6L899.0 756.3L900.5 756.0L902.0 755.6L903.5 755.0L905.0 754.2L906.5 753.2L908.0 752.1L909.5 751.1L911.0 750.3L912.5 749.6L914.0 749.1L915.5 748.6L917.0 748.1L918.5 747.7L920.0 747.2L921.5 746.8L923.0 746.3L924.5 745.9L926.0 745.4L927.5 744.9L929.0 744.3L930.5 743.9L932.0 743.5L933.5 743.3L935.0 743.2L936.5 743.2L938.0 743.2L939.5 743.2L941.0 743.4L942.5 743.7L944.0 744.2L945.5 744.9L947.0 745.8L948.5 746.5L950.0 747.3L951.5 747.9L953.0 748.6L954.5 749.2L956.0 750.0L957.5 750.7L959.0 751.6L960.5 752.5L962.0 753.4L963.5 754.4L965.0 755.4L966.5 756.4L968.0 757.3L969.5 758.1L971.0 758.7L972.5 759.2L974.0 759.6L975.5 759.8L977.0 759.8L978.5 759.7L980.0 759.4L981.5 759.1L983.0 758.7L984.5 758.3L986.0 757.8L987.5 757.2L989.0 756.5L990.5 755.7L992.0 754.8L993.5 753.8L995.0 752.9L996.5 752.1L998.0 751.4L999.5 750.7L1001.0 749.9L1002.5 749.0L1004.0 748.1L1005.5 747.1L1007.0 746.0L1008.5 744.9L1010.0 743.8L1011.5 742.6L1013.0 741.5L1014.5 740.3L1016.0 739.0L1017.5 737.7L1019.0 736.4L1020.5 735.1L1022.0 733.7L1023.5 732.4L1025.0 731.1L1026.5 729.8L1028.0 728.5L1029.5 727.3L1031.0 726.1L1032.5 725.1L1034.0 724.1L1035.5 723.1L1037.0 722.2L1038.5 721.4L1040.0 720.5L1041.5 719.5L1043.0 718.6L1044.5 717.7L1046.0 716.8L1047.5 716.0L1049.0 715.3L1050.5 714.6L1052.0 714.0L1053.5 713.5L1055.0 712.9L1056.5 712.3L1058.0 711.8L1059.5 711.2L1061.0 710.6L1062.5 709.9L1064.0 709.0L1065.5 708.1L1067.0 707.0L1068.5 706.0L1070.0 705.1L1071.5 704.4L1073.0 703.8L1074.5 703.3L1076.0 703.0L1077.5 702.9L1079.0 702.9L1080.5 703.1L1082.0 703.4L1083.5 703.7L1085.0 704.1L1086.5 704.7L1088.0 705.3L1089.5 706.0L1091.0 706.8L1092.5 707.8L1094.0 708.8L1095.5 709.9L1097.0 711.1L1098.5 712.3L1100.0 713.7L1101.5 715.1L1103.0 716.6L1104.5 718.1L1106.0 719.6L1107.5 721.1L1109.0 722.5L1110.5 724.0L1112.0 725.6L1113.5 727.2L1115.0 728.9L1116.5 730.7L1118.0 732.6L1119.5 734.6L1121.0 736.5L1122.5 738.3L1124.0 740.2L1125.5 742.1L1127.0 743.9L1128.5 745.7L1130.0 747.3L1131.5 748.8L1133.0 750.1L1134.5 751.2L1136.0 752.1L1137.5 752.8L1139.0 753.4L1140.5 753.9L1142.0 754.3L1143.5 754.5L1145.0 754.7L1146.5 754.8L1148.0 754.9L1149.5 754.9L1151.0 754.9L1152.5 754.9L1154.0 754.8L1155.5 754.7L1157.0 754.6L1158.5 754.5L1160.0 754.4L1161.5 754.3L1163.0 754.2L1164.5 754.1L1166.0 753.9L1167.5 753.6L1169.0 753.2L1170.5 752.7L1172.0 752.3L1173.5 751.8L1175.0 751.3L1176.5 750.7L1178.0 750.2L1179.5 749.7L1181.0 749.3L1182.5 748.8L1184.0 748.4L1185.5 748.0L1187.0 747.8L1188.5 747.6L1190.0 747.5L1191.5 747.5L1193.0 747.4L1194.5 747.5L1196.0 747.7L1197.5 748.0L1199.0 748.4L1200.5 748.8L1202.0 749.1L1203.5 749.3L1205.0 749.5L1206.5 749.5L1208.0 749.4L1209.5 749.2L1211.0 748.9L1212.5 748.6L1214.0 748.3L1215.5 748.1L1217.0 747.7L1218.5 747.3L1220.0 746.8L1221.5 746.1L1223.0 745.3L1224.5 744.4L1226.0 743.6L1227.5 742.7L1229.0 741.7L1230.5 740.6L1232.0 739.4L1233.5 738.2L1235.0 736.8L1236.5 735.4L1238.0 734.0L1239.5 732.5L1241.0 731.0L1242.5 729.5L1244.0 728.0L1245.5 726.5L1247.0 724.9L1248.5 723.4L1250.0 721.9L1251.5 720.4L1253.0 718.9L1254.5 717.6L1256.0 716.3L1257.5 715.1L1259.0 714.1L1260.5 713.0L1262.0 712.1L1263.5 711.1L1265.0 710.2L1266.5 709.2L1268.0 708.1L1269.5 707.0L1271.0 705.9L1272.5 704.7L1274.0 703.5L1275.5 702.4L1277.0 701.3L1278.5 700.3L1280.0 699.4L1281.5 698.6L1283.0 698.0L1284.5 697.4L1286.0 697.0L1287.5 696.7L1289.0 696.5L1290.5 696.4L1292.0 696.4L1293.5 696.4L1295.0 696.4L1296.5 696.5L1298.0 696.6L1299.5 696.9L1301.0 697.2L1302.5 697.5L1304.0 697.8L1305.5 698.1L1307.0 698.3L1308.5 698.4L1310.0 698.3L1311.5 698.2L1313.0 698.0L1314.5 697.7L1316.0 697.2L1317.5 696.5L1319.0 695.7L1320.5 694.7L1322.0 693.6L1323.5 692.3L1325.0 690.9L1326.5 689.4L1328.0 687.8L1329.5 686.1L1331.0 684.4L1332.5 682.6L1334.0 680.8L1335.5 678.9L1337.0 677.0L1338.5 674.9L1340.0 672.8L1341.5 670.6L1343.0 668.2L1344.5 665.7L1346.0 663.1L1347.5 660.4L1349.0 657.5L1350.5 654.5L1352.0 651.2L1353.5 647.9L1355.0 644.5L1356.5 641.0L1358.0 637.5L1359.5 633.9L1361.0 630.4L1362.5 627.1L1364.0 623.9L1365.5 621.0L1367.0 618.2L1368.5 615.6L1370.0 612.9L1371.5 610.2L1373.0 607.3L1374.5 604.0L1376.0 600.6L1377.5 597.4L1379.0 594.9L1380.5 593.1L1382.0 591.8L1383.5 590.9L1385.0 590.2L1386.5 589.8L1388.0 589.7L1389.5 589.7L1391.0 589.8L1392.5 589.8L1394.0 589.9L1395.5 589.9L1397.0 589.9L1398.5 589.8L1400.0 589.6L1401.5 589.3L1403.0 589.0L1404.5 588.8L1406.0 588.6L1407.5 588.5L1409.0 588.7L1410.5 589.2L1412.0 590.2L1413.5 591.4L1415.0 592.6L1416.5 593.8L1418.0 594.8L1419.5 595.6L1421.0 596.2L1422.5 596.4L1424.0 596.0L1425.5 594.9L1427.0 593.2L1428.5 591.5L1430.0 590.3L1431.5 589.4L1433.0 588.7L1434.5 587.8L1436.0 586.7L1437.5 585.4L1439.0 584.0L1440.5 582.5L1442.0 580.9L1443.5 579.3L1445.0 577.8L1446.5 576.3L1448.0 574.9L1449.5 573.4L1451.0 571.9L1452.5 570.1L1454.0 568.3L1455.5 566.3L1457.0 564.1L1458.5 561.9L1460.0 559.7L1461.5 557.5L1463.0 555.4L1464.5 553.4L1466.0 551.4L1467.5 549.5L1469.0 547.5L1470.5 545.4L1472.0 543.3L1473.5 541.0L1475.0 538.7L1476.5 536.7L1478.0 535.0L1479.5 533.7L1481.0 532.8L1482.5 532.3L1484.0 532.1L1485.5 532.0L1487.0 532.0L1488.5 531.6L1490.0 530.7L1491.5 529.3L1493.0 527.8L1494.5 526.3L1496.0 525.2L1497.5 524.2L1499.0 523.2L1500.5 522.4L1502.0 521.6L1503.5 520.8L1505.0 520.0L1506.5 519.3L1508.0 518.6L1509.5 518.0L1511.0 517.6L1512.5 517.4L1514.0 517.7L1515.5 518.4L1517.0 519.3L1518.5 520.4L1520.0 521.5L1521.5 522.6L1523.0 523.8L1524.5 525.1L1526.0 526.3L1527.5 527.6L1529.0 528.8L1530.5 530.0L1532.0 531.2L1533.5 532.1L1535.0 532.9L1536.5 533.4L1538.0 533.8L1539.5 534.4L1541.0 535.2L1542.5 536.3L1544.0 537.6L1545.5 538.8L1547.0 539.8L1548.5 540.9L1550.0 542.1L1551.5 543.6L1553.0 545.3L1554.5 546.7L1556.0 547.4L1557.5 547.5L1559.0 547.1L1560.5 546.7L1562.0 546.2L1563.5 545.6L1565.0 544.8L1566.5 544.0L1568.0 542.9L1569.5 541.7L1571.0 540.3L1572.5 538.8L1574.0 537.0L1575.5 535.2L1577.0 533.2L1578.5 531.1L1580.0 528.8L1581.5 526.5L1583.0 524.1L1584.5 521.6L1586.0 518.8L1587.5 515.8L1589.0 512.4L1590.5 508.9L1592.0 505.4L1593.5 501.9L1595.0 498.5L1596.5 495.1L1598.0 491.8L1599.5 488.5L1601.0 485.4L1602.5 482.3L1604.0 479.4L1605.5 476.4L1607.0 473.3L1608.5 470.1L1610.0 466.8L1611.5 463.4L1613.0 460.0L1614.5 456.7L1616.0 453.4L1617.5 450.2L1619.0 447.0L1620.5 443.7L1622.0 440.3L1623.5 436.8L1625.0 433.2L1626.5 429.2L1628.0 425.0L1629.5 420.5L1631.0 415.6L1632.5 410.2L1634.0 404.4L1635.5 398.4L1637.0 392.1L1638.5 385.8L1640.0 379.6L1641.5 373.8L1643.0 368.8L1644.5 364.7L1646.0 361.4L1647.5 358.8L1649.0 356.9L1650.5 355.5L1652.0 354.4L1653.5 353.4L1655.0 352.3L1656.5 351.0L1658.0 349.6L1659.5 347.8L1661.0 345.6L1662.5 343.1L1664.0 340.0L1665.5 336.4L1667.0 332.3L1668.5 328.1L1670.0 324.5L1671.5 321.7L1673.0 319.9L1674.5 318.8L1676.0 318.2L1677.5 317.9L1679.0 317.7L1680.5 317.4L1682.0 317.1L1683.5 316.7L1685.0 316.3L1686.5 316.1L1688.0 316.0L1689.5 316.1L1691.0 316.7L1692.5 318.0L1694.0 320.4L1695.5 324.1L1697.0 328.7L1698.5 333.9L1700.0 339.3L1701.5 344.7L1703.0 349.7L1704.5 354.1L1706.0 357.7L1707.5 360.6L1709.0 362.8L1710.5 364.2L1712.0 365.1L1713.5 365.5L1715.0 365.5L1716.5 365.1L1718.0 364.5L1719.5 363.9L1721.0 363.2L1722.5 362.7L1723.7 362.3"/>
</g>
<path class="d" d="M11 555h1v3h-1z"/>
<path class="u" d="M13 533h1v26h-1zM12 535h3v22h-3z"/>
<path class="u" d="M16 526h1v10h-1zM15 529h3v6h-3z"/>
<path class="d" d="M19 529h1v15h-1zM18 529h3v9h-3z"/>
<path class="u" d="M21 527h1v12h-1zM20 529h3v9h-3z"/>
<path class="u" d="M24 525h1v9h-1zM23 530h3v1h-3z"/>
<path class="d" d="M27 530h1v25h-1zM26 532h3v20h-3z"/>
<path class="d" d="M30 552h1v14h-1zM29 552h3v10h-3z"/>
<path class="u" d="M33 548h1v14h-1zM32 558h3v4h-3z"/>
<path class="u" d="M36 549h1v12h-1zM35 556h3v2h-3z"/>
<path class="d" d="M38 552h1v13h-1zM37 556h3v8h-3z"/>
<path class="d" d="M41 563h1v14h-1zM40 564h3v11h-3z"/>
<path class="d" d="M44 574h1v18h-1zM43 575h3v16h-3z"/>
<path class="d" d="M47 590h1v8h-1zM46 591h3v7h-3z"/>
<path class="d" d="M49 598h3v18h-3z"/>
<path class="d" d="M53 616h1v6h-1zM52 616h3v4h-3z"/>
<path class="u" d="M55 619h1v2h-1zM54 620h3v1h-3z"/>
<path class="u" d="M58 614h1v9h-1zM57 615h3v5h-3z"/>
<path class="d" d="M61 615h1v6h-1zM60 615h3v4h-3z"/>
<path class="d" d="M63 619h3v5h-3z"/>
<path class="u" d="M67 613h1v15h-1zM66 613h3v11h-3z"/>
<path class="d" d="M70 612h1v9h-1zM69 613h3v8h-3z"/>
<path class="u" d="M72 615h3v6h-3z"/>
<path class="u" d="M75 606h1v9h-1zM74 609h3v6h-3z"/>
<path class="d" d="M78 609h1v10h-1zM77 609h3v5h-3z"/>
<path class="d" d="M81 612h1v5h-1zM80 614h3v1h-3z"/>
<path class="d" d="M83 615h3v12h-3z"/>
<path class="d" d="M87 627h1v14h-1zM86 627h3v13h-3z"/>
<path class="u" d="M89 616h3v24h-3z"/>
<path class="d" d="M91 616h3v25h-3z"/>
<path class="u" d="M95 619h1v25h-1zM94 619h3v22h-3z"/>
<path class="u" d="M97 614h3v5h-3z"/>
<path class="d" d="M101 614h1v17h-1zM100 614h3v16h-3z"/>
<path class="d" d="M104 627h1v16h-1zM103 630h3v13h-3z"/>
<path class="u" d="M106 643h3v1h-3z"/>
<path class="d" d="M108 643h3v23h-3z"/>
<path class="d" d="M112 662h1v7h-1zM111 666h3v2h-3z"/>
<path class="d" d="M115 668h1v8h-1zM114 668h3v6h-3z"/>
<path class="u" d="M118 671h1v3h-1zM117 672h3v2h-3z"/>
<path class="u" d="M121 658h1v15h-1zM120 658h3v14h-3z"/>
<path class="u" d="M124 656h1v3h-1zM123 658h3v1h-3z"/>
<path class="u" d="M126 635h1v23h-1zM125 636h3v22h-3z"/>
<path class="u" d="M129 596h1v42h-1zM128 596h3v40h-3z"/>
<path class="d" d="M132 595h1v4h-1zM131 596h3v3h-3z"/>
<path class="u" d="M135 549h1v52h-1zM134 549h3v50h-3z"/>
<path class="u" d="M138 541h1v8h-1zM137 544h3v5h-3z"/>
<path class="d" d="M141 542h1v13h-1zM140 544h3v11h-3z"/>
<path class="d" d="M144 555h1v13h-1zM143 555h3v12h-3z"/>
<path class="d" d="M146 563h1v27h-1zM145 567h3v23h-3z"/>
<path class="u" d="M149 587h1v4h-1zM148 589h3v1h-3z"/>
<path class="u" d="M152 574h1v17h-1zM151 575h3v14h-3z"/>
<path class="u" d="M155 556h1v20h-1zM154 556h3v19h-3z"/>
<path class="u" d="M158 542h1v15h-1zM157 543h3v13h-3z"/>
<path class="d" d="M161 543h1v3h-1zM160 543h3v2h-3z"/>
<path class="d" d="M162 545h3v4h-3z"/>
<path class="d" d="M165 549h3v4h-3z"/>
<path class="d" d="M168 562h3v9h-3z"/>
<path class="d" d="M172 567h1v7h-1zM171 571h3v1h-3z"/>
<path class="d" d="M175 571h1v15h-1zM174 572h3v14h-3z"/>
<path class="u" d="M178 576h1v10h-1zM177 577h3v9h-3z"/>
<path class="d" d="M180 577h1v15h-1zM179 577h3v14h-3z"/>
<path class="d" d="M183 590h1v6h-1zM182 591h3v4h-3z"/>
<path class="u" d="M186 574h1v22h-1zM185 576h3v19h-3z"/>
<path class="d" d="M189 575h1v9h-1zM188 576h3v6h-3z"/>
<path class="d" d="M192 581h1v6h-1zM191 582h3v5h-3z"/>
<path class="d" d="M195 586h1v21h-1zM194 587h3v19h-3z"/>
<path class="d" d="M198 605h1v9h-1zM197 606h3v7h-3z"/>
<path class="u" d="M200 587h1v26h-1zM199 590h3v23h-3z"/>
<path class="d" d="M203 588h1v20h-1zM202 590h3v16h-3z"/>
<path class="u" d="M206 586h1v22h-1zM205 586h3v20h-3z"/>
<path class="d" d="M209 583h1v8h-1zM208 586h3v2h-3z"/>
<path class="u" d="M212 582h1v6h-1zM211 585h3v3h-3z"/>
<path class="d" d="M214 585h3v3h-3z"/>
<path class="d" d="M217 586h1v42h-1zM216 588h3v38h-3z"/>
<path class="u" d="M220 615h1v15h-1zM219 615h3v11h-3z"/>
<path class="u" d="M223 603h1v13h-1zM222 604h3v11h-3z"/>
<path class="u" d="M226 600h1v4h-1zM225 603h3v1h-3z"/>
<path class="d" d="M229 601h1v11h-1zM228 603h3v7h-3z"/>
<path class="u" d="M232 593h1v18h-1zM231 595h3v15h-3z"/>
<path class="u" d="M234 590h1v6h-1zM233 594h3v1h-3z"/>
<path class="d" d="M236 594h3v7h-3z"/>
<path class="u" d="M240 594h1v9h-1zM239 594h3v7h-3z"/>
<path class="d" d="M243 593h1v26h-1zM242 594h3v25h-3z"/>
<path class="u" d="M246 603h1v16h-1zM245 604h3v15h-3z"/>
<path class="d" d="M249 603h1v30h-1zM248 604h3v25h-3z"/>
<path class="u" d="M251 622h1v7h-1zM250 626h3v3h-3z"/>
<path class="d" d="M254 624h1v11h-1zM253 626h3v9h-3z"/>
<path class="d" d="M257 634h1v25h-1zM256 635h3v24h-3z"/>
<path class="u" d="M259 651h3v8h-3z"/>
<path class="u" d="M263 624h1v28h-1zM262 625h3v26h-3z"/>
<path class="d" d="M266 624h1v18h-1zM265 625h3v15h-3z"/>
<path class="u" d="M268 637h3v3h-3z"/>
<path class="d" d="M271 637h1v13h-1zM270 637h3v11h-3z"/>
<path class="d" d="M274 643h1v12h-1zM273 648h3v7h-3z"/>
<path class="u" d="M277 651h1v5h-1zM276 651h3v4h-3z"/>
<path class="d" d="M280 650h1v8h-1zM279 651h3v6h-3z"/>
<path class="d" d="M283 655h1v15h-1zM282 657h3v10h-3z"/>
<path class="d" d="M286 664h1v6h-1zM285 667h3v3h-3z"/>
<path class="d" d="M288 670h1v3h-1zM287 670h3v2h-3z"/>
<path class="u" d="M291 667h1v5h-1zM290 668h3v4h-3z"/>
<path class="u" d="M293 654h3v14h-3z"/>
<path class="d" d="M297 653h1v7h-1zM296 654h3v6h-3z"/>
<path class="d" d="M300 660h1v9h-1zM299 660h3v8h-3z"/>
<path class="u" d="M303 650h1v18h-1zM302 651h3v17h-3z"/>
<path class="d" d="M305 649h1v18h-1zM304 651h3v16h-3z"/>
<path class="u" d="M308 662h1v6h-1zM307 662h3v5h-3z"/>
<path class="u" d="M311 656h1v6h-1zM310 660h3v2h-3z"/>
<path class="u" d="M314 650h1v11h-1zM313 651h3v9h-3z"/>
<path class="d" d="M317 648h1v19h-1zM316 651h3v12h-3z"/>
<path class="u" d="M320 632h1v31h-1zM319 633h3v30h-3z"/>
<path class="u" d="M323 613h1v23h-1zM322 620h3v13h-3z"/>
<path class="d" d="M324 620h3v20h-3z"/>
<path class="d" d="M327 640h3v28h-3z"/>
<path class="d" d="M331 667h1v14h-1zM330 668h3v8h-3z"/>
<path class="d" d="M334 675h1v11h-1zM333 676h3v10h-3z"/>
<path class="u" d="M337 674h1v14h-1zM336 674h3v12h-3z"/>
<path class="d" d="M340 626h1v35h-1zM339 650h3v11h-3z"/>
<path class="u" d="M342 643h1v18h-1zM341 646h3v15h-3z"/>
<path class="d" d="M345 645h1v31h-1zM344 646h3v28h-3z"/>
<path class="d" d="M348 674h1v10h-1zM347 674h3v8h-3z"/>
<path class="u" d="M350 662h3v23h-3z"/>
<path class="d" d="M354 662h1v9h-1zM353 662h3v8h-3z"/>
<path class="d" d="M357 668h1v24h-1zM356 670h3v22h-3z"/>
<path class="d" d="M359 692h1v11h-1zM358 692h3v9h-3z"/>
<path class="u" d="M362 683h1v18h-1zM361 685h3v16h-3z"/>
<path class="d" d="M365 682h1v4h-1zM364 685h3v1h-3z"/>
<path class="u" d="M367 681h3v5h-3z"/>
<path class="d" d="M371 679h1v4h-1zM370 681h3v1h-3z"/>
<path class="u" d="M374 680h1v3h-1zM373 681h3v1h-3z"/>
<path class="d" d="M377 680h1v14h-1zM376 681h3v13h-3z"/>
<path class="d" d="M379 694h1v13h-1zM378 694h3v12h-3z"/>
<path class="u" d="M381 705h3v1h-3z"/>
<path class="d" d="M385 705h1v11h-1zM384 705h3v10h-3z"/>
<path class="u" d="M387 701h3v14h-3z"/>
<path class="d" d="M390 701h3v1h-3z"/>
<path class="d" d="M394 702h1v7h-1zM393 702h3v3h-3z"/>
<path class="d" d="M396 705h1v8h-1zM395 705h3v7h-3z"/>
<path class="d" d="M399 711h1v11h-1zM398 712h3v10h-3z"/>
<path class="u" d="M402 712h1v12h-1zM401 712h3v10h-3z"/>
<path class="d" d="M405 712h1v3h-1zM404 712h3v2h-3z"/>
<path class="d" d="M407 714h3v10h-3z"/>
<path class="u" d="M411 721h1v4h-1zM410 721h3v3h-3z"/>
<path class="u" d="M413 715h1v6h-1zM412 718h3v3h-3z"/>
<path class="d" d="M416 715h1v6h-1zM415 718h3v3h-3z"/>
<path class="u" d="M419 716h1v8h-1zM418 717h3v4h-3z"/>
<path class="d" d="M422 713h1v5h-1zM421 717h3v1h-3z"/>
<path class="u" d="M425 715h1v5h-1zM424 716h3v2h-3z"/>
<path class="d" d="M428 716h1v16h-1zM427 716h3v15h-3z"/>
<path class="d" d="M430 731h1v2h-1zM429 731h3v1h-3z"/>
<path class="d" d="M432 732h3v1h-3z"/>
<path class="d" d="M436 731h1v11h-1zM435 733h3v9h-3z"/>
<path class="d" d="M438 742h3v3h-3z"/>
<path class="u" d="M442 738h1v11h-1zM441 741h3v4h-3z"/>
<path class="d" d="M445 739h1v10h-1zM444 741h3v7h-3z"/>
<path class="d" d="M448 746h1v12h-1zM447 748h3v10h-3z"/>
<path class="d" d="M450 758h1v2h-1zM449 758h3v1h-3z"/>
<path class="u" d="M453 756h1v3h-1zM452 757h3v2h-3z"/>
<path class="d" d="M456 757h1v18h-1zM455 757h3v16h-3z"/>
<path class="d" d="M459 773h1v6h-1zM458 773h3v4h-3z"/>
<path class="d" d="M462 777h1v10h-1zM461 777h3v7h-3z"/>
<path class="d" d="M465 781h1v15h-1zM464 784h3v11h-3z"/>
<path class="d" d="M467 795h1v11h-1zM466 795h3v2h-3z"/>
<path class="u" d="M470 773h1v24h-1zM469 774h3v23h-3z"/>
<path class="u" d="M473 765h1v9h-1zM472 767h3v7h-3z"/>
<path class="d" d="M476 767h1v5h-1zM475 767h3v2h-3z"/>
<path class="d" d="M479 768h1v3h-1zM478 769h3v1h-3z"/>
<path class="d" d="M482 769h1v4h-1zM481 769h3v3h-3z"/>
<path class="u" d="M484 767h1v6h-1zM483 769h3v3h-3z"/>
<path class="u" d="M487 755h1v14h-1zM486 761h3v8h-3z"/>
<path class="d" d="M490 759h1v7h-1zM489 761h3v3h-3z"/>
<path class="d" d="M493 760h1v12h-1zM492 764h3v8h-3z"/>
<path class="d" d="M496 772h1v7h-1zM495 772h3v5h-3z"/>
<path class="d" d="M499 774h1v9h-1zM498 777h3v6h-3z"/>
<path class="u" d="M501 773h3v10h-3z"/>
<path class="u" d="M504 769h1v6h-1zM503 772h3v1h-3z"/>
<path class="d" d="M507 772h1v2h-1zM506 772h3v1h-3z"/>
<path class="d" d="M510 770h1v8h-1zM509 773h3v5h-3z"/>
<path class="u" d="M513 772h1v6h-1zM512 773h3v5h-3z"/>
<path class="u" d="M516 766h1v7h-1zM515 767h3v6h-3z"/>
<path class="u" d="M519 763h1v4h-1zM518 764h3v3h-3z"/>
<path class="u" d="M521 749h1v18h-1zM520 749h3v15h-3z"/>
<path class="u" d="M524 740h1v9h-1zM523 741h3v8h-3z"/>
<path class="d" d="M527 739h1v16h-1zM526 741h3v12h-3z"/>
<path class="d" d="M530 752h1v11h-1zM529 753h3v8h-3z"/>
<path class="u" d="M533 757h1v6h-1zM532 758h3v3h-3z"/>
<path class="d" d="M536 757h1v10h-1zM535 758h3v7h-3z"/>
<path class="d" d="M538 765h1v5h-1zM537 765h3v2h-3z"/>
<path class="d" d="M541 767h1v7h-1zM540 767h3v4h-3z"/>
<path class="u" d="M544 769h1v4h-1zM543 770h3v1h-3z"/>
<path class="d" d="M547 768h1v13h-1zM546 770h3v11h-3z"/>
<path class="u" d="M550 758h1v24h-1zM549 761h3v20h-3z"/>
<path class="u" d="M553 747h1v15h-1zM552 747h3v14h-3z"/>
<path class="u" d="M555 743h1v5h-1zM554 743h3v4h-3z"/>
<path class="u" d="M558 736h1v10h-1zM557 739h3v4h-3z"/>
<path class="d" d="M561 739h1v6h-1zM560 739h3v4h-3z"/>
<path class="d" d="M564 742h1v3h-1zM563 743h3v2h-3z"/>
<path class="d" d="M567 745h1v4h-1zM566 745h3v3h-3z"/>
<path class="d" d="M570 746h1v6h-1zM569 748h3v4h-3z"/>
<path class="d" d="M573 750h1v5h-1zM572 752h3v3h-3z"/>
<path class="d" d="M574 755h3v24h-3z"/>
<path class="u" d="M578 769h1v12h-1zM577 770h3v9h-3z"/>
<path class="u" d="M581 767h1v4h-1zM580 769h3v1h-3z"/>
<path class="u" d="M584 754h1v15h-1zM583 755h3v14h-3z"/>
<path class="d" d="M587 754h1v5h-1zM586 755h3v3h-3z"/>
<path class="d" d="M590 755h1v6h-1zM589 758h3v3h-3z"/>
<path class="d" d="M591 761h3v2h-3z"/>
<path class="d" d="M595 762h1v3h-1zM594 763h3v1h-3z"/>
<path class="d" d="M598 763h1v3h-1zM597 763h3v2h-3z"/>
<path class="u" d="M601 750h1v16h-1zM600 750h3v15h-3z"/>
<path class="d" d="M604 745h1v19h-1zM603 750h3v14h-3z"/>
<path class="u" d="M606 763h3v1h-3z"/>
<path class="d" d="M609 761h1v6h-1zM608 763h3v4h-3z"/>
<path class="u" d="M612 759h1v9h-1zM611 759h3v8h-3z"/>
<path class="d" d="M615 759h1v15h-1zM614 759h3v13h-3z"/>
<path class="d" d="M618 772h1v25h-1zM617 772h3v1h-3z"/>
<path class="d" d="M621 795h1v5h-1zM620 796h3v3h-3z"/>
<path class="u" d="M624 789h1v11h-1zM623 789h3v10h-3z"/>
<path class="u" d="M627 785h1v6h-1zM626 787h3v2h-3z"/>
<path class="d" d="M629 787h1v4h-1zM628 787h3v3h-3z"/>
<path class="d" d="M632 788h1v9h-1zM631 790h3v6h-3z"/>
<path class="d" d="M635 795h1v9h-1zM634 796h3v5h-3z"/>
<path class="u" d="M638 792h1v10h-1zM637 792h3v9h-3z"/>
<path class="d" d="M640 792h3v9h-3z"/>
<path class="u" d="M644 796h1v5h-1zM643 798h3v3h-3z"/>
<path class="u" d="M646 796h1v7h-1zM645 796h3v2h-3z"/>
<path class="u" d="M649 792h1v7h-1zM648 794h3v2h-3z"/>
<path class="u" d="M652 791h1v3h-1zM651 792h3v2h-3z"/>
<path class="d" d="M655 789h1v17h-1zM654 792h3v14h-3z"/>
<path class="u" d="M657 804h3v2h-3z"/>
<path class="d" d="M661 803h1v2h-1zM660 804h3v1h-3z"/>
<path class="u" d="M663 795h1v11h-1zM662 795h3v10h-3z"/>
<path class="d" d="M666 793h1v6h-1zM665 795h3v4h-3z"/>
<path class="u" d="M669 793h1v6h-1zM668 795h3v4h-3z"/>
<path class="d" d="M672 792h1v9h-1zM671 795h3v6h-3z"/>
<path class="d" d="M675 800h1v2h-1zM674 801h3v1h-3z"/>
<path class="u" d="M678 798h1v5h-1zM677 799h3v3h-3z"/>
<path class="u" d="M680 792h1v8h-1zM679 792h3v7h-3z"/>
<path class="d" d="M683 790h1v13h-1zM682 792h3v11h-3z"/>
<path class="u" d="M685 797h3v6h-3z"/>
<path class="u" d="M688 795h3v2h-3z"/>
<path class="u" d="M692 787h1v9h-1zM691 791h3v4h-3z"/>
<path class="u" d="M694 782h3v9h-3z"/>
<path class="u" d="M698 779h1v4h-1zM697 779h3v3h-3z"/>
<path class="u" d="M700 757h1v23h-1zM699 761h3v18h-3z"/>
<path class="d" d="M703 760h1v21h-1zM702 761h3v18h-3z"/>
<path class="d" d="M706 771h1v10h-1zM705 779h3v1h-3z"/>
<path class="d" d="M709 777h1v8h-1zM708 780h3v3h-3z"/>
<path class="u" d="M712 772h1v14h-1zM711 775h3v8h-3z"/>
<path class="u" d="M715 767h1v8h-1zM714 768h3v7h-3z"/>
<path class="d" d="M717 766h1v3h-1zM716 768h3v1h-3z"/>
<path class="u" d="M719 763h3v6h-3z"/>
<path class="d" d="M723 763h1v3h-1zM722 763h3v2h-3z"/>
<path class="u" d="M726 752h1v13h-1zM725 753h3v12h-3z"/>
<path class="d" d="M729 750h1v14h-1zM728 753h3v11h-3z"/>
<path class="d" d="M732 761h1v7h-1zM731 764h3v2h-3z"/>
<path class="u" d="M734 761h1v6h-1zM733 762h3v4h-3z"/>
<path class="d" d="M737 759h1v5h-1zM736 762h3v2h-3z"/>
<path class="u" d="M739 757h3v7h-3z"/>
<path class="d" d="M743 754h1v22h-1zM742 757h3v19h-3z"/>
<path class="u" d="M746 774h1v6h-1zM745 775h3v1h-3z"/>
<path class="u" d="M749 763h1v14h-1zM748 766h3v9h-3z"/>
<path class="d" d="M752 761h1v12h-1zM751 766h3v6h-3z"/>
<path class="u" d="M754 767h1v5h-1zM753 768h3v4h-3z"/>
<path class="u" d="M757 755h1v15h-1zM756 756h3v12h-3z"/>
<path class="u" d="M760 740h1v17h-1zM759 740h3v16h-3z"/>
<path class="u" d="M763 728h1v14h-1zM762 732h3v8h-3z"/>
<path class="d" d="M766 731h1v17h-1zM765 732h3v15h-3z"/>
<path class="d" d="M769 747h1v13h-1zM768 747h3v12h-3z"/>
<path class="u" d="M771 754h1v5h-1zM770 756h3v3h-3z"/>
<path class="d" d="M774 756h1v13h-1zM773 756h3v10h-3z"/>
<path class="d" d="M777 763h1v12h-1zM776 766h3v9h-3z"/>
<path class="d" d="M779 775h3v4h-3z"/>
<path class="d" d="M783 779h1v9h-1zM782 779h3v7h-3z"/>
<path class="u" d="M786 777h1v10h-1zM785 777h3v9h-3z"/>
<path class="u" d="M788 772h1v5h-1zM787 773h3v4h-3z"/>
<path class="d" d="M791 772h1v8h-1zM790 773h3v6h-3z"/>
<path class="u" d="M794 775h1v4h-1zM793 776h3v3h-3z"/>
<path class="d" d="M797 774h1v11h-1zM796 776h3v9h-3z"/>
<path class="u" d="M799 778h3v7h-3z"/>
<path class="u" d="M803 777h1v5h-1zM802 777h3v1h-3z"/>
<path class="u" d="M806 773h1v4h-1zM805 776h3v1h-3z"/>
<path class="d" d="M808 776h1v4h-1zM807 776h3v3h-3z"/>
<path class="u" d="M811 768h1v11h-1zM810 771h3v8h-3z"/>
<path class="d" d="M814 766h1v10h-1zM813 771h3v5h-3z"/>
<path class="u" d="M816 773h3v3h-3z"/>
<path class="u" d="M820 758h1v17h-1zM819 759h3v14h-3z"/>
<path class="d" d="M823 759h1v4h-1zM822 759h3v3h-3z"/>
<path class="u" d="M825 743h1v21h-1zM824 743h3v19h-3z"/>
<path class="u" d="M827 739h3v4h-3z"/>
<path class="d" d="M831 736h1v18h-1zM830 739h3v13h-3z"/>
<path class="d" d="M834 750h1v7h-1zM833 752h3v1h-3z"/>
<path class="d" d="M837 753h1v7h-1zM836 753h3v5h-3z"/>
<path class="u" d="M840 748h1v14h-1zM839 748h3v10h-3z"/>
<path class="d" d="M841 748h3v8h-3z"/>
<path class="d" d="M845 756h1v4h-1zM844 756h3v1h-3z"/>
<path class="u" d="M848 753h1v4h-1zM847 755h3v2h-3z"/>
<path class="u" d="M851 753h1v2h-1zM850 754h3v1h-3z"/>
<path class="d" d="M854 754h1v14h-1zM853 754h3v9h-3z"/>
<path class="d" d="M857 761h1v9h-1zM856 763h3v5h-3z"/>
<path class="u" d="M859 762h1v6h-1zM858 764h3v4h-3z"/>
<path class="u" d="M862 756h1v8h-1zM861 757h3v7h-3z"/>
<path class="u" d="M865 752h1v6h-1zM864 757h3v1h-3z"/>
<path class="d" d="M868 757h1v15h-1zM867 757h3v12h-3z"/>
<path class="u" d="M871 768h1v3h-1zM870 768h3v1h-3z"/>
<path class="d" d="M874 768h1v3h-1zM873 768h3v2h-3z"/>
<path class="u" d="M877 763h1v12h-1zM876 765h3v5h-3z"/>
<path class="d" d="M879 763h1v9h-1zM878 765h3v4h-3z"/>
<path class="u" d="M882 765h1v6h-1zM881 765h3v4h-3z"/>
<path class="u" d="M885 752h1v15h-1zM884 756h3v9h-3z"/>
<path class="u" d="M888 743h1v15h-1zM887 744h3v12h-3z"/>
<path class="d" d="M891 742h1v4h-1zM890 744h3v1h-3z"/>
<path class="u" d="M894 736h1v10h-1zM893 738h3v6h-3z"/>
<path class="d" d="M896 736h1v18h-1zM895 738h3v15h-3z"/>
<path class="u" d="M899 744h1v12h-1zM898 747h3v6h-3z"/>
<path class="d" d="M901 747h3v5h-3z"/>
<path class="u" d="M905 722h1v30h-1zM904 723h3v29h-3z"/>
<path class="u" d="M908 708h1v16h-1zM907 709h3v14h-3z"/>
<path class="d" d="M911 707h1v13h-1zM910 709h3v11h-3z"/>
<path class="d" d="M913 714h1v20h-1zM912 720h3v11h-3z"/>
<path class="d" d="M916 729h1v13h-1zM915 731h3v11h-3z"/>
<path class="d" d="M919 742h1v6h-1zM918 742h3v5h-3z"/>
<path class="u" d="M922 739h1v10h-1zM921 742h3v5h-3z"/>
<path class="d" d="M925 741h1v10h-1zM924 742h3v7h-3z"/>
<path class="u" d="M928 748h1v3h-1zM927 748h3v1h-3z"/>
<path class="u" d="M931 742h1v6h-1zM930 745h3v3h-3z"/>
<path class="u" d="M933 743h1v2h-1zM932 744h3v1h-3z"/>
<path class="d" d="M935 744h3v9h-3z"/>
<path class="d" d="M939 753h1v4h-1zM938 753h3v3h-3z"/>
<path class="d" d="M942 753h1v17h-1zM941 756h3v14h-3z"/>
<path class="u" d="M945 761h1v9h-1zM944 765h3v5h-3z"/>
<path class="d" d="M948 761h1v14h-1zM947 765h3v10h-3z"/>
<path class="d" d="M950 774h1v6h-1zM949 775h3v3h-3z"/>
<path class="u" d="M953 774h1v7h-1zM952 776h3v2h-3z"/>
<path class="u" d="M955 768h3v8h-3z"/>
<path class="d" d="M959 767h1v11h-1zM958 768h3v3h-3z"/>
<path class="d" d="M962 771h1v2h-1zM961 771h3v1h-3z"/>
<path class="u" d="M964 768h3v4h-3z"/>
<path class="d" d="M967 767h1v5h-1zM966 768h3v3h-3z"/>
<path class="u" d="M970 760h1v14h-1zM969 760h3v11h-3z"/>
<path class="u" d="M972 752h3v8h-3z"/>
<path class="u" d="M976 744h1v9h-1zM975 745h3v7h-3z"/>
<path class="d" d="M979 742h1v16h-1zM978 745h3v13h-3z"/>
<path class="u" d="M982 726h1v34h-1zM981 726h3v32h-3z"/>
<path class="u" d="M984 717h1v11h-1zM983 726h3v1h-3z"/>
<path class="d" d="M986 722h3v14h-3z"/>
<path class="u" d="M990 734h1v5h-1zM989 735h3v1h-3z"/>
<path class="u" d="M993 710h1v27h-1zM992 713h3v22h-3z"/>
<path class="u" d="M996 709h1v4h-1zM995 710h3v3h-3z"/>
<path class="d" d="M999 708h1v10h-1zM998 710h3v8h-3z"/>
<path class="d" d="M1001 718h3v6h-3z"/>
<path class="d" d="M1004 723h1v9h-1zM1003 724h3v7h-3z"/>
<path class="d" d="M1007 726h1v17h-1zM1006 731h3v11h-3z"/>
<path class="u" d="M1010 739h1v6h-1zM1009 739h3v3h-3z"/>
<path class="u" d="M1013 736h1v3h-1zM1012 737h3v2h-3z"/>
<path class="u" d="M1016 731h1v7h-1zM1015 731h3v6h-3z"/>
<path class="u" d="M1019 723h1v10h-1zM1018 726h3v5h-3z"/>
<path class="u" d="M1021 722h1v7h-1zM1020 722h3v4h-3z"/>
<path class="u" d="M1024 719h1v3h-1zM1023 720h3v2h-3z"/>
<path class="u" d="M1027 713h1v8h-1zM1026 715h3v5h-3z"/>
<path class="u" d="M1030 708h1v8h-1zM1029 712h3v3h-3z"/>
<path class="u" d="M1033 697h1v15h-1zM1032 704h3v8h-3z"/>
<path class="u" d="M1036 700h1v9h-1zM1035 702h3v2h-3z"/>
<path class="d" d="M1038 702h1v10h-1zM1037 702h3v7h-3z"/>
<path class="u" d="M1041 694h1v16h-1zM1040 694h3v15h-3z"/>
<path class="d" d="M1043 691h3v12h-3z"/>
<path class="u" d="M1047 697h1v6h-1zM1046 700h3v3h-3z"/>
<path class="u" d="M1050 684h1v18h-1zM1049 686h3v14h-3z"/>
<path class="d" d="M1053 686h1v8h-1zM1052 686h3v6h-3z"/>
<path class="d" d="M1056 691h1v10h-1zM1055 692h3v8h-3z"/>
<path class="u" d="M1058 692h1v10h-1zM1057 692h3v8h-3z"/>
<path class="d" d="M1061 691h1v6h-1zM1060 692h3v4h-3z"/>
<path class="d" d="M1064 695h1v7h-1zM1063 696h3v5h-3z"/>
<path class="d" d="M1067 701h1v11h-1zM1066 701h3v8h-3z"/>
<path class="u" d="M1070 698h1v11h-1zM1069 700h3v9h-3z"/>
<path class="u" d="M1073 687h1v14h-1zM1072 691h3v9h-3z"/>
<path class="d" d="M1075 691h1v13h-1zM1074 691h3v12h-3z"/>
<path class="d" d="M1078 699h1v16h-1zM1077 703h3v12h-3z"/>
<path class="d" d="M1081 712h1v17h-1zM1080 715h3v12h-3z"/>
<path class="d" d="M1084 727h1v7h-1zM1083 727h3v6h-3z"/>
<path class="u" d="M1087 732h1v2h-1zM1086 732h3v1h-3z"/>
<path class="d" d="M1090 730h1v11h-1zM1089 732h3v8h-3z"/>
<path class="d" d="M1092 740h1v8h-1zM1091 740h3v4h-3z"/>
<path class="d" d="M1095 740h1v10h-1zM1094 744h3v2h-3z"/>
<path class="u" d="M1098 738h1v9h-1zM1097 742h3v4h-3z"/>
<path class="d" d="M1101 740h1v14h-1zM1100 742h3v10h-3z"/>
<path class="d" d="M1103 752h3v4h-3z"/>
<path class="u" d="M1107 749h1v8h-1zM1106 752h3v4h-3z"/>
<path class="d" d="M1110 752h1v6h-1zM1109 752h3v5h-3z"/>
<path class="d" d="M1112 755h1v4h-1zM1111 757h3v1h-3z"/>
<path class="d" d="M1115 758h1v12h-1zM1114 758h3v8h-3z"/>
<path class="d" d="M1118 764h1v8h-1zM1117 766h3v5h-3z"/>
<path class="d" d="M1121 770h1v5h-1zM1120 771h3v1h-3z"/>
<path class="u" d="M1124 769h1v4h-1zM1123 769h3v3h-3z"/>
<path class="u" d="M1127 764h1v9h-1zM1126 765h3v4h-3z"/>
<path class="u" d="M1129 759h1v6h-1zM1128 761h3v4h-3z"/>
<path class="d" d="M1132 757h1v10h-1zM1131 761h3v4h-3z"/>
<path class="u" d="M1134 764h3v1h-3z"/>
<path class="u" d="M1138 747h1v17h-1zM1137 752h3v12h-3z"/>
<path class="u" d="M1141 741h1v12h-1zM1140 741h3v11h-3z"/>
<path class="d" d="M1143 741h3v6h-3z"/>
<path class="u" d="M1146 742h1v6h-1zM1145 743h3v4h-3z"/>
<path class="u" d="M1149 733h1v10h-1zM1148 736h3v7h-3z"/>
<path class="d" d="M1151 736h3v2h-3z"/>
<path class="d" d="M1155 737h1v5h-1zM1154 738h3v3h-3z"/>
<path class="d" d="M1158 741h1v13h-1zM1157 741h3v12h-3z"/>
<path class="d" d="M1161 750h1v10h-1zM1160 753h3v6h-3z"/>
<path class="u" d="M1163 753h1v9h-1zM1162 754h3v5h-3z"/>
<path class="u" d="M1166 741h1v14h-1zM1165 741h3v13h-3z"/>
<path class="d" d="M1169 737h1v6h-1zM1168 741h3v1h-3z"/>
<path class="d" d="M1172 738h1v8h-1zM1171 741h3v4h-3z"/>
<path class="d" d="M1175 745h1v3h-1zM1174 745h3v2h-3z"/>
<path class="d" d="M1178 747h1v8h-1zM1177 747h3v3h-3z"/>
<path class="d" d="M1181 750h1v5h-1zM1180 750h3v3h-3z"/>
<path class="u" d="M1183 750h1v6h-1zM1182 750h3v3h-3z"/>
<path class="u" d="M1186 746h1v6h-1zM1185 748h3v2h-3z"/>
<path class="d" d="M1189 747h1v9h-1zM1188 748h3v8h-3z"/>
<path class="d" d="M1192 755h1v9h-1zM1191 756h3v7h-3z"/>
<path class="u" d="M1195 760h1v4h-1zM1194 760h3v3h-3z"/>
<path class="d" d="M1198 756h1v8h-1zM1197 760h3v3h-3z"/>
<path class="u" d="M1200 756h1v10h-1zM1199 759h3v4h-3z"/>
<path class="u" d="M1203 753h1v8h-1zM1202 754h3v5h-3z"/>
<path class="u" d="M1206 724h1v31h-1zM1205 731h3v23h-3z"/>
<path class="d" d="M1209 731h1v3h-1zM1208 731h3v2h-3z"/>
<path class="d" d="M1212 724h1v15h-1zM1211 724h3v14h-3z"/>
<path class="u" d="M1215 726h1v14h-1zM1214 726h3v12h-3z"/>
<path class="d" d="M1216 726h3v17h-3z"/>
<path class="u" d="M1220 732h1v11h-1zM1219 734h3v9h-3z"/>
<path class="u" d="M1223 721h1v16h-1zM1222 724h3v10h-3z"/>
<path class="u" d="M1226 706h1v19h-1zM1225 706h3v16h-3z"/>
<path class="u" d="M1229 701h1v8h-1zM1228 701h3v5h-3z"/>
<path class="d" d="M1232 700h1v4h-1zM1231 701h3v1h-3z"/>
<path class="u" d="M1235 691h1v13h-1zM1234 691h3v11h-3z"/>
<path class="u" d="M1237 685h1v6h-1zM1236 688h3v3h-3z"/>
<path class="u" d="M1240 678h1v12h-1zM1239 678h3v10h-3z"/>
<path class="d" d="M1243 676h1v10h-1zM1242 678h3v7h-3z"/>
<path class="d" d="M1246 684h1v20h-1zM1245 685h3v15h-3z"/>
<path class="u" d="M1248 695h3v5h-3z"/>
<path class="d" d="M1252 693h1v13h-1zM1251 695h3v9h-3z"/>
<path class="d" d="M1254 702h1v4h-1zM1253 704h3v2h-3z"/>
<path class="d" d="M1257 705h1v18h-1zM1256 706h3v16h-3z"/>
<path class="u" d="M1260 713h1v11h-1zM1259 713h3v9h-3z"/>
<path class="u" d="M1263 708h1v7h-1zM1262 710h3v3h-3z"/>
<path class="d" d="M1266 705h1v6h-1zM1265 710h3v1h-3z"/>
<path class="u" d="M1268 691h3v20h-3z"/>
<path class="u" d="M1271 681h1v10h-1zM1270 684h3v7h-3z"/>
<path class="d" d="M1274 683h1v5h-1zM1273 684h3v2h-3z"/>
<path class="d" d="M1277 686h1v11h-1zM1276 686h3v8h-3z"/>
<path class="u" d="M1280 689h1v5h-1zM1279 691h3v3h-3z"/>
<path class="d" d="M1282 689h3v9h-3z"/>
<path class="u" d="M1286 694h1v9h-1zM1285 695h3v3h-3z"/>
<path class="d" d="M1288 694h1v5h-1zM1287 695h3v2h-3z"/>
<path class="d" d="M1290 697h3v1h-3z"/>
<path class="u" d="M1294 687h1v12h-1zM1293 690h3v8h-3z"/>
<path class="d" d="M1297 684h1v6h-1zM1296 687h3v2h-3z"/>
<path class="u" d="M1300 687h1v5h-1zM1299 687h3v2h-3z"/>
<path class="d" d="M1303 686h1v21h-1zM1302 687h3v18h-3z"/>
<path class="u" d="M1306 699h1v10h-1zM1305 701h3v4h-3z"/>
<path class="u" d="M1307 700h3v1h-3z"/>
<path class="u" d="M1311 692h1v10h-1zM1310 694h3v6h-3z"/>
<path class="u" d="M1313 690h3v4h-3z"/>
<path class="d" d="M1317 689h1v12h-1zM1316 690h3v9h-3z"/>
<path class="u" d="M1319 693h3v6h-3z"/>
<path class="u" d="M1323 657h1v38h-1zM1322 657h3v36h-3z"/>
<path class="u" d="M1325 641h1v16h-1zM1324 643h3v14h-3z"/>
<path class="u" d="M1327 614h3v29h-3z"/>
<path class="d" d="M1331 614h1v3h-1zM1330 614h3v1h-3z"/>
<path class="u" d="M1334 598h1v18h-1zM1333 600h3v15h-3z"/>
<path class="d" d="M1337 599h1v26h-1zM1336 600h3v22h-3z"/>
<path class="u" d="M1340 608h1v15h-1zM1339 609h3v13h-3z"/>
<path class="d" d="M1342 606h1v4h-1zM1341 609h3v1h-3z"/>
<path class="d" d="M1345 607h1v21h-1zM1344 609h3v19h-3z"/>
<path class="u" d="M1348 572h1v56h-1zM1347 574h3v54h-3z"/>
<path class="u" d="M1351 567h1v8h-1zM1350 568h3v6h-3z"/>
<path class="u" d="M1353 566h3v2h-3z"/>
<path class="u" d="M1357 562h1v4h-1zM1356 564h3v2h-3z"/>
<path class="u" d="M1359 549h3v15h-3z"/>
<path class="d" d="M1362 545h1v7h-1zM1361 549h3v3h-3z"/>
<path class="d" d="M1365 551h1v13h-1zM1364 552h3v12h-3z"/>
<path class="d" d="M1368 561h1v16h-1zM1367 564h3v12h-3z"/>
<path class="d" d="M1371 575h1v30h-1zM1370 576h3v29h-3z"/>
<path class="u" d="M1374 577h1v29h-1zM1373 578h3v27h-3z"/>
<path class="d" d="M1377 577h1v27h-1zM1376 578h3v22h-3z"/>
<path class="d" d="M1379 597h1v9h-1zM1378 600h3v3h-3z"/>
<path class="d" d="M1382 603h1v13h-1zM1381 603h3v8h-3z"/>
<path class="u" d="M1385 592h1v19h-1zM1384 594h3v17h-3z"/>
<path class="d" d="M1388 591h1v18h-1zM1387 594h3v15h-3z"/>
<path class="d" d="M1391 609h1v5h-1zM1390 609h3v2h-3z"/>
<path class="d" d="M1394 608h1v11h-1zM1393 611h3v7h-3z"/>
<path class="d" d="M1396 615h1v6h-1zM1395 618h3v1h-3z"/>
<path class="u" d="M1399 611h1v9h-1zM1398 611h3v7h-3z"/>
<path class="u" d="M1402 590h1v21h-1zM1401 591h3v20h-3z"/>
<path class="d" d="M1405 589h1v14h-1zM1404 591h3v12h-3z"/>
<path class="u" d="M1408 586h1v18h-1zM1407 588h3v15h-3z"/>
<path class="d" d="M1411 584h1v16h-1zM1410 588h3v11h-3z"/>
<path class="d" d="M1414 598h1v13h-1zM1413 599h3v12h-3z"/>
<path class="u" d="M1416 597h1v18h-1zM1415 597h3v14h-3z"/>
<path class="d" d="M1419 595h1v5h-1zM1418 597h3v1h-3z"/>
<path class="u" d="M1422 564h1v33h-1zM1421 567h3v30h-3z"/>
<path class="u" d="M1424 532h3v35h-3z"/>
<path class="u" d="M1428 492h1v40h-1zM1427 494h3v38h-3z"/>
<path class="d" d="M1430 494h3v45h-3z"/>
<path class="d" d="M1433 539h1v33h-1zM1432 539h3v32h-3z"/>
<path class="u" d="M1436 543h1v28h-1zM1435 544h3v27h-3z"/>
<path class="d" d="M1439 544h1v6h-1zM1438 544h3v5h-3z"/>
<path class="d" d="M1442 545h1v10h-1zM1441 549h3v5h-3z"/>
<path class="u" d="M1445 537h1v17h-1zM1444 548h3v6h-3z"/>
<path class="d" d="M1448 546h1v7h-1zM1447 548h3v3h-3z"/>
<path class="d" d="M1450 550h1v3h-1zM1449 551h3v1h-3z"/>
<path class="u" d="M1453 547h1v6h-1zM1452 547h3v5h-3z"/>
<path class="u" d="M1456 532h1v16h-1zM1455 532h3v15h-3z"/>
<path class="u" d="M1459 521h1v13h-1zM1458 524h3v8h-3z"/>
<path class="d" d="M1462 521h1v15h-1zM1461 524h3v10h-3z"/>
<path class="u" d="M1465 503h1v32h-1zM1464 520h3v14h-3z"/>
<path class="d" d="M1467 520h1v6h-1zM1466 520h3v3h-3z"/>
<path class="u" d="M1470 498h1v25h-1zM1469 499h3v24h-3z"/>
<path class="d" d="M1473 495h1v11h-1zM1472 499h3v4h-3z"/>
<path class="d" d="M1476 500h1v35h-1zM1475 503h3v29h-3z"/>
<path class="d" d="M1479 531h1v3h-1zM1478 532h3v1h-3z"/>
<path class="u" d="M1482 510h1v25h-1zM1481 510h3v22h-3z"/>
<path class="u" d="M1485 508h1v6h-1zM1484 509h3v1h-3z"/>
<path class="u" d="M1487 508h1v3h-1zM1486 508h3v1h-3z"/>
<path class="u" d="M1490 489h1v22h-1zM1489 497h3v11h-3z"/>
<path class="d" d="M1493 495h1v5h-1zM1492 497h3v3h-3z"/>
<path class="d" d="M1496 500h1v24h-1zM1495 500h3v13h-3z"/>
<path class="d" d="M1499 510h1v9h-1zM1498 513h3v3h-3z"/>
<path class="u" d="M1502 512h1v4h-1zM1501 515h3v1h-3z"/>
<path class="u" d="M1504 504h1v15h-1zM1503 515h3v1h-3z"/>
<path class="d" d="M1507 513h1v11h-1zM1506 515h3v6h-3z"/>
<path class="d" d="M1510 520h1v9h-1zM1509 521h3v8h-3z"/>
<path class="d" d="M1513 528h1v13h-1zM1512 529h3v9h-3z"/>
<path class="d" d="M1516 537h1v25h-1zM1515 538h3v23h-3z"/>
<path class="d" d="M1519 559h1v9h-1zM1518 561h3v5h-3z"/>
<path class="u" d="M1521 550h1v19h-1zM1520 564h3v2h-3z"/>
<path class="d" d="M1524 564h1v14h-1zM1523 564h3v13h-3z"/>
<path class="u" d="M1527 567h1v11h-1zM1526 567h3v10h-3z"/>
<path class="u" d="M1529 561h3v6h-3z"/>
<path class="u" d="M1532 556h3v5h-3z"/>
<path class="u" d="M1536 533h1v27h-1zM1535 541h3v15h-3z"/>
<path class="d" d="M1538 541h3v1h-3z"/>
<path class="u" d="M1541 538h1v5h-1zM1540 540h3v2h-3z"/>
<path class="d" d="M1544 537h1v28h-1zM1543 540h3v25h-3z"/>
<path class="u" d="M1547 558h1v9h-1zM1546 558h3v7h-3z"/>
<path class="u" d="M1550 548h1v16h-1zM1549 548h3v10h-3z"/>
<path class="u" d="M1552 540h3v8h-3z"/>
<path class="d" d="M1556 539h1v9h-1zM1555 540h3v8h-3z"/>
<path class="u" d="M1558 534h1v18h-1zM1557 536h3v12h-3z"/>
<path class="u" d="M1561 512h1v25h-1zM1560 515h3v21h-3z"/>
<path class="u" d="M1564 492h1v26h-1zM1563 493h3v22h-3z"/>
<path class="u" d="M1567 486h1v8h-1zM1566 489h3v4h-3z"/>
<path class="d" d="M1569 491h3v14h-3z"/>
<path class="u" d="M1573 494h1v12h-1zM1572 495h3v10h-3z"/>
<path class="d" d="M1575 493h1v13h-1zM1574 495h3v8h-3z"/>
<path class="u" d="M1578 480h1v25h-1zM1577 480h3v23h-3z"/>
<path class="u" d="M1581 464h1v16h-1zM1580 466h3v14h-3z"/>
<path class="u" d="M1584 449h1v20h-1zM1583 450h3v16h-3z"/>
<path class="u" d="M1586 434h3v16h-3z"/>
<path class="u" d="M1590 425h1v11h-1zM1589 425h3v9h-3z"/>
<path class="u" d="M1592 414h1v13h-1zM1591 414h3v11h-3z"/>
<path class="d" d="M1594 407h3v12h-3z"/>
<path class="d" d="M1598 417h1v17h-1zM1597 419h3v2h-3z"/>
<path class="u" d="M1601 403h1v21h-1zM1600 414h3v7h-3z"/>
<path class="u" d="M1604 405h1v10h-1zM1603 405h3v9h-3z"/>
<path class="d" d="M1607 403h1v23h-1zM1606 405h3v20h-3z"/>
<path class="d" d="M1610 433h1v10h-1zM1609 434h3v8h-3z"/>
<path class="u" d="M1611 406h3v36h-3z"/>
<path class="d" d="M1615 405h1v14h-1zM1614 406h3v13h-3z"/>
<path class="u" d="M1618 393h1v27h-1zM1617 394h3v25h-3z"/>
<path class="u" d="M1620 377h3v17h-3z"/>
<path class="d" d="M1624 368h1v10h-1zM1623 377h3v1h-3z"/>
<path class="u" d="M1627 368h1v10h-1zM1626 371h3v7h-3z"/>
<path class="u" d="M1629 350h1v21h-1zM1628 352h3v19h-3z"/>
<path class="u" d="M1632 348h1v6h-1zM1631 348h3v4h-3z"/>
<path class="u" d="M1634 223h3v125h-3z"/>
<path class="u" d="M1638 112h1v94h-1zM1637 169h3v37h-3z"/>
<path class="d" d="M1641 169h1v35h-1zM1640 169h3v23h-3z"/>
<path class="d" d="M1644 160h1v70h-1zM1643 192h3v38h-3z"/>
<path class="d" d="M1646 224h1v79h-1zM1645 230h3v73h-3z"/>
<path class="d" d="M1649 297h1v27h-1zM1648 303h3v19h-3z"/>
<path class="d" d="M1652 322h1v51h-1zM1651 322h3v3h-3z"/>
<path class="d" d="M1654 373h3v24h-3z"/>
<path class="u" d="M1657 365h3v32h-3z"/>
<path class="u" d="M1660 322h3v43h-3z"/>
<path class="u" d="M1664 307h1v23h-1zM1663 307h3v15h-3z"/>
<path class="u" d="M1665 298h3v9h-3z"/>
<path class="u" d="M1668 266h3v33h-3z"/>
<path class="d" d="M1671 266h3v50h-3z"/>
<path class="d" d="M1674 316h3v64h-3z"/>
<path class="u" d="M1677 340h3v40h-3z"/>
<path class="d" d="M1681 360h1v32h-1zM1680 360h3v21h-3z"/>
<path class="u" d="M1682 366h3v15h-3z"/>
<path class="u" d="M1685 345h3v21h-3z"/>
<path class="d" d="M1689 342h1v6h-1zM1688 345h3v3h-3z"/>
<path class="d" d="M1692 314h1v46h-1zM1691 348h3v12h-3z"/>
<path class="u" d="M1694 349h3v40h-3z"/>
<path class="d" d="M1697 349h3v50h-3z"/>
<path class="d" d="M1699 399h3v31h-3z"/>
<path class="u" d="M1702 427h3v3h-3z"/>
<path class="d" d="M1705 427h3v16h-3z"/>
<path class="u" d="M1709 408h1v27h-1zM1708 408h3v25h-3z"/>
<path class="d" d="M1712 408h1v19h-1zM1711 408h3v8h-3z"/>
<path class="u" d="M1715 395h1v31h-1zM1714 395h3v21h-3z"/>
<path class="u" d="M1717 328h3v67h-3z"/>
<path class="d" d="M1719 328h3v41h-3z"/>
<path class="d" d="M1722 355h3v18h-3z"/>
<path fill="#ef5350" d="M12 373h1v1h-1zM15 373h1v1h-1zM18 373h1v1h-1zM21 373h1v1h-1zM24 373h1v1h-1zM27 373h1v1h-1zM30 373h1v1h-1zM33 373h1v1h-1zM36 373h1v1h-1zM39 373h1v1h-1zM42 373h1v1h-1zM45 373h1v1h-1zM48 373h1v1h-1zM51 373h1v1h-1zM54 373h1v1h-1zM57 373h1v1h-1zM60 373h1v1h-1zM63 373h1v1h-1zM66 373h1v1h-1zM69 373h1v1h-1zM72 373h1v1h-1zM75 373h1v1h-1zM78 373h1v1h-1zM81 373h1v1h-1zM84 373h1v1h-1zM87 373h1v1h-1zM90 373h1v1h-1zM93 373h1v1h-1zM96 373h1v1h-1zM99 373h1v1h-1zM102 373h1v1h-1zM105 373h1v1h-1zM108 373h1v1h-1zM111 373h1v1h-1zM114 373h1v1h-1zM117 373h1v1h-1zM120 373h1v1h-1zM123 373h1v1h-1zM126 373h1v1h-1zM129 373h1v1h-1zM132 373h1v1h-1zM135 373h1v1h-1zM138 373h1v1h-1zM141 373h1v1h-1zM144 373h1v1h-1zM147 373h1v1h-1zM150 373h1v1h-1zM153 373h1v1h-1zM156 373h1v1h-1zM159 373h1v1h-1zM162 373h1v1h-1zM165 373h1v1h-1zM168 373h1v1h-1zM171 373h1v1h-1zM174 373h1v1h-1zM177 373h1v1h-1zM180 373h1v1h-1zM183 373h1v1h-1zM186 373h1v1h-1zM189 373h1v1h-1zM192 373h1v1h-1zM195 373h1v1h-1zM198 373h1v1h-1zM201 373h1v1h-1zM204 373h1v1h-1zM207 373h1v1h-1zM210 373h1v1h-1zM213 373h1v1h-1zM216 373h1v1h-1zM219 373h1v1h-1zM222 373h1v1h-1zM225 373h1v1h-1zM228 373h1v1h-1zM231 373h1v1h-1zM234 373h1v1h-1zM237 373h1v1h-1zM240 373h1v1h-1zM243 373h1v1h-1zM246 373h1v1h-1zM249 373h1v1h-1zM252 373h1v1h-1zM255 373h1v1h-1zM258 373h1v1h-1zM261 373h1v1h-1zM264 373h1v1h-1zM267 373h1v1h-1zM270 373h1v1h-1zM273 373h1v1h-1zM276 373h1v1h-1zM279 373h1v1h-1zM282 373h1v1h-1zM285 373h1v1h-1zM288 373h1v1h-1zM291 373h1v1h-1zM294 373h1v1h-1zM297 373h1v1h-1zM300 373h1v1h-1zM303 373h1v1h-1zM306 373h1v1h-1zM309 373h1v1h-1zM312 373h1v1h-1zM315 373h1v1h-1zM318 373h1v1h-1zM321 373h1v1h-1zM324 373h1v1h-1zM327 373h1v1h-1zM330 373h1v1h-1zM333 373h1v1h-1zM336 373h1v1h-1zM339 373h1v1h-1zM342 373h1v1h-1zM345 373h1v1h-1zM348 373h1v1h-1zM351 373h1v1h-1zM354 373h1v1h-1zM357 373h1v1h-1zM360 373h1v1h-1zM363 373h1v1h-1zM366 373h1v1h-1zM369 373h1v1h-1zM372 373h1v1h-1zM375 373h1v1h-1zM378 373h1v1h-1zM381 373h1v1h-1zM384 373h1v1h-1zM387 373h1v1h-1zM390 373h1v1h-1zM393 373h1v1h-1zM396 373h1v1h-1zM399 373h1v1h-1zM402 373h1v1h-1zM405 373h1v1h-1zM408 373h1v1h-1zM411 373h1v1h-1zM414 373h1v1h-1zM417 373h1v1h-1zM420 373h1v1h-1zM423 373h1v1h-1zM426 373h1v1h-1zM429 373h1v1h-1zM432 373h1v1h-1zM435 373h1v1h-1zM438 373h1v1h-1zM441 373h1v1h-1zM444 373h1v1h-1zM447 373h1v1h-1zM450 373h1v1h-1zM453 373h1v1h-1zM456 373h1v1h-1zM459 373h1v1h-1zM462 373h1v1h-1zM465 373h1v1h-1zM468 373h1v1h-1zM471 373h1v1h-1zM474 373h1v1h-1zM477 373h1v1h-1zM480 373h1v1h-1zM483 373h1v1h-1zM486 373h1v1h-1zM489 373h1v1h-1zM492 373h1v1h-1zM495 373h1v1h-1zM498 373h1v1h-1zM501 373h1v1h-1zM504 373h1v1h-1zM507 373h1v1h-1zM510 373h1v1h-1zM513 373h1v1h-1zM516 373h1v1h-1zM519 373h1v1h-1zM522 373h1v1h-1zM525 373h1v1h-1zM528 373h1v1h-1zM531 373h1v1h-1zM534 373h1v1h-1zM537 373h1v1h-1zM540 373h1v1h-1zM543 373h1v1h-1zM546 373h1v1h-1zM549 373h1v1h-1zM552 373h1v1h-1zM555 373h1v1h-1zM558 373h1v1h-1zM561 373h1v1h-1zM564 373h1v1h-1zM567 373h1v1h-1zM570 373h1v1h-1zM573 373h1v1h-1zM576 373h1v1h-1zM579 373h1v1h-1zM582 373h1v1h-1zM585 373h1v1h-1zM588 373h1v1h-1zM591 373h1v1h-1zM594 373h1v1h-1zM597 373h1v1h-1zM600 373h1v1h-1zM603 373h1v1h-1zM606 373h1v1h-1zM609 373h1v1h-1zM612 373h1v1h-1zM615 373h1v1h-1zM618 373h1v1h-1zM621 373h1v1h-1zM624 373h1v1h-1zM627 373h1v1h-1zM630 373h1v1h-1zM633 373h1v1h-1zM636 373h1v1h-1zM639 373h1v1h-1zM642 373h1v1h-1zM645 373h1v1h-1zM648 373h1v1h-1zM651 373h1v1h-1zM654 373h1v1h-1zM657 373h1v1h-1zM660 373h1v1h-1zM663 373h1v1h-1zM666 373h1v1h-1zM669 373h1v1h-1zM672 373h1v1h-1zM675 373h1v1h-1zM678 373h1v1h-1zM681 373h1v1h-1zM684 373h1v1h-1zM687 373h1v1h-1zM690 373h1v1h-1zM693 373h1v1h-1zM696 373h1v1h-1zM699 373h1v1h-1zM702 373h1v1h-1zM705 373h1v1h-1zM708 373h1v1h-1zM711 373h1v1h-1zM714 373h1v1h-1zM717 373h1v1h-1zM720 373h1v1h-1zM723 373h1v1h-1zM726 373h1v1h-1zM729 373h1v1h-1zM732 373h1v1h-1zM735 373h1v1h-1zM738 373h1v1h-1zM741 373h1v1h-1zM744 373h1v1h-1zM747 373h1v1h-1zM750 373h1v1h-1zM753 373h1v1h-1zM756 373h1v1h-1zM759 373h1v1h-1zM762 373h1v1h-1zM765 373h1v1h-1zM768 373h1v1h-1zM771 373h1v1h-1zM774 373h1v1h-1zM777 373h1v1h-1zM780 373h1v1h-1zM783 373h1v1h-1zM786 373h1v1h-1zM789 373h1v1h-1zM792 373h1v1h-1zM795 373h1v1h-1zM798 373h1v1h-1zM801 373h1v1h-1zM804 373h1v1h-1zM807 373h1v1h-1zM810 373h1v1h-1zM813 373h1v1h-1zM816 373h1v1h-1zM819 373h1v1h-1zM822 373h1v1h-1zM825 373h1v1h-1zM828 373h1v1h-1zM831 373h1v1h-1zM834 373h1v1h-1zM837 373h1v1h-1zM840 373h1v1h-1zM843 373h1v1h-1zM846 373h1v1h-1zM849 373h1v1h-1zM852 373h1v1h-1zM855 373h1v1h-1zM858 373h1v1h-1zM861 373h1v1h-1zM864 373h1v1h-1zM867 373h1v1h-1zM870 373h1v1h-1zM873 373h1v1h-1zM876 373h1v1h-1zM879 373h1v1h-1zM882 373h1v1h-1zM885 373h1v1h-1zM888 373h1v1h-1zM891 373h1v1h-1zM894 373h1v1h-1zM897 373h1v1h-1zM900 373h1v1h-1zM903 373h1v1h-1zM906 373h1v1h-1zM909 373h1v1h-1zM912 373h1v1h-1zM915 373h1v1h-1zM918 373h1v1h-1zM921 373h1v1h-1zM924 373h1v1h-1zM927 373h1v1h-1zM930 373h1v1h-1zM933 373h1v1h-1zM936 373h1v1h-1zM939 373h1v1h-1zM942 373h1v1h-1zM945 373h1v1h-1zM948 373h1v1h-1zM951 373h1v1h-1zM954 373h1v1h-1zM957 373h1v1h-1zM960 373h1v1h-1zM963 373h1v1h-1zM966 373h1v1h-1zM969 373h1v1h-1zM972 373h1v1h-1zM975 373h1v1h-1zM978 373h1v1h-1zM981 373h1v1h-1zM984 373h1v1h-1zM987 373h1v1h-1zM990 373h1v1h-1zM993 373h1v1h-1zM996 373h1v1h-1zM999 373h1v1h-1zM1002 373h1v1h-1zM1005 373h1v1h-1zM1008 373h1v1h-1zM1011 373h1v1h-1zM1014 373h1v1h-1zM1017 373h1v1h-1zM1020 373h1v1h-1zM1023 373h1v1h-1zM1026 373h1v1h-1zM1029 373h1v1h-1zM1032 373h1v1h-1zM1035 373h1v1h-1zM1038 373h1v1h-1zM1041 373h1v1h-1zM1044 373h1v1h-1zM1047 373h1v1h-1zM1050 373h1v1h-1zM1053 373h1v1h-1zM1056 373h1v1h-1zM1059 373h1v1h-1zM1062 373h1v1h-1zM1065 373h1v1h-1zM1068 373h1v1h-1zM1071 373h1v1h-1zM1074 373h1v1h-1zM1077 373h1v1h-1zM1080 373h1v1h-1zM1083 373h1v1h-1zM1086 373h1v1h-1zM1089 373h1v1h-1zM1092 373h1v1h-1zM1095 373h1v1h-1zM1098 373h1v1h-1zM1101 373h1v1h-1zM1104 373h1v1h-1zM1107 373h1v1h-1zM1110 373h1v1h-1zM1113 373h1v1h-1zM1116 373h1v1h-1zM1119 373h1v1h-1zM1122 373h1v1h-1zM1125 373h1v1h-1zM1128 373h1v1h-1zM1131 373h1v1h-1zM1134 373h1v1h-1zM1137 373h1v1h-1zM1140 373h1v1h-1zM1143 373h1v1h-1zM1146 373h1v1h-1zM1149 373h1v1h-1zM1152 373h1v1h-1zM1155 373h1v1h-1zM1158 373h1v1h-1zM1161 373h1v1h-1zM1164 373h1v1h-1zM1167 373h1v1h-1zM1170 373h1v1h-1zM1173 373h1v1h-1zM1176 373h1v1h-1zM1179 373h1v1h-1zM1182 373h1v1h-1zM1185 373h1v1h-1zM1188 373h1v1h-1zM1191 373h1v1h-1zM1194 373h1v1h-1zM1197 373h1v1h-1zM1200 373h1v1h-1zM1203 373h1v1h-1zM1206 373h1v1h-1zM1209 373h1v1h-1zM1212 373h1v1h-1zM1215 373h1v1h-1zM1218 373h1v1h-1zM1221 373h1v1h-1zM1224 373h1v1h-1zM1227 373h1v1h-1zM1230 373h1v1h-1zM1233 373h1v1h-1zM1236 373h1v1h-1zM1239 373h1v1h-1zM1242 373h1v1h-1zM1245 373h1v1h-1zM1248 373h1v1h-1zM1251 373h1v1h-1zM1254 373h1v1h-1zM1257 373h1v1h-1zM1260 373h1v1h-1zM1263 373h1v1h-1zM1266 373h1v1h-1zM1269 373h1v1h-1zM1272 373h1v1h-1zM1275 373h1v1h-1zM1278 373h1v1h-1zM1281 373h1v1h-1zM1284 373h1v1h-1zM1287 373h1v1h-1zM1290 373h1v1h-1zM1293 373h1v1h-1zM1296 373h1v1h-1zM1299 373h1v1h-1zM1302 373h1v1h-1zM1305 373h1v1h-1zM1308 373h1v1h-1zM1311 373h1v1h-1zM1314 373h1v1h-1zM1317 373h1v1h-1zM1320 373h1v1h-1zM1323 373h1v1h-1zM1326 373h1v1h-1zM1329 373h1v1h-1zM1332 373h1v1h-1zM1335 373h1v1h-1zM1338 373h1v1h-1zM1341 373h1v1h-1zM1344 373h1v1h-1zM1347 373h1v1h-1zM1350 373h1v1h-1zM1353 373h1v1h-1zM1356 373h1v1h-1zM1359 373h1v1h-1zM1362 373h1v1h-1zM1365 373h1v1h-1zM1368 373h1v1h-1zM1371 373h1v1h-1zM1374 373h1v1h-1zM1377 373h1v1h-1zM1380 373h1v1h-1zM1383 373h1v1h-1zM1386 373h1v1h-1zM1389 373h1v1h-1zM1392 373h1v1h-1zM1395 373h1v1h-1zM1398 373h1v1h-1zM1401 373h1v1h-1zM1404 373h1v1h-1zM1407 373h1v1h-1zM1410 373h1v1h-1zM1413 373h1v1h-1zM1416 373h1v1h-1zM1419 373h1v1h-1zM1422 373h1v1h-1zM1425 373h1v1h-1zM1428 373h1v1h-1zM1431 373h1v1h-1zM1434 373h1v1h-1zM1437 373h1v1h-1zM1440 373h1v1h-1zM1443 373h1v1h-1zM1446 373h1v1h-1zM1449 373h1v1h-1zM1452 373h1v1h-1zM1455 373h1v1h-1zM1458 373h1v1h-1zM1461 373h1v1h-1zM1464 373h1v1h-1zM1467 373h1v1h-1zM1470 373h1v1h-1zM1473 373h1v1h-1zM1476 373h1v1h-1zM1479 373h1v1h-1zM1482 373h1v1h-1zM1485 373h1v1h-1zM1488 373h1v1h-1zM1491 373h1v1h-1zM1494 373h1v1h-1zM1497 373h1v1h-1zM1500 373h1v1h-1zM1503 373h1v1h-1zM1506 373h1v1h-1zM1509 373h1v1h-1zM1512 373h1v1h-1zM1515 373h1v1h-1zM1518 373h1v1h-1zM1521 373h1v1h-1zM1524 373h1v1h-1zM1527 373h1v1h-1zM1530 373h1v1h-1zM1533 373h1v1h-1zM1536 373h1v1h-1zM1539 373h1v1h-1zM1542 373h1v1h-1zM1545 373h1v1h-1zM1548 373h1v1h-1zM1551 373h1v1h-1zM1554 373h1v1h-1zM1557 373h1v1h-1zM1560 373h1v1h-1zM1563 373h1v1h-1zM1566 373h1v1h-1zM1569 373h1v1h-1zM1572 373h1v1h-1zM1575 373h1v1h-1zM1578 373h1v1h-1zM1581 373h1v1h-1zM1584 373h1v1h-1zM1587 373h1v1h-1zM1590 373h1v1h-1zM1593 373h1v1h-1zM1596 373h1v1h-1zM1599 373h1v1h-1zM1602 373h1v1h-1zM1605 373h1v1h-1zM1608 373h1v1h-1zM1611 373h1v1h-1zM1614 373h1v1h-1zM1617 373h1v1h-1zM1620 373h1v1h-1zM1623 373h1v1h-1zM1626 373h1v1h-1zM1629 373h1v1h-1zM1632 373h1v1h-1zM1635 373h1v1h-1zM1638 373h1v1h-1zM1641 373h1v1h-1zM1644 373h1v1h-1zM1647 373h1v1h-1zM1650 373h1v1h-1zM1653 373h1v1h-1zM1656 373h1v1h-1zM1659 373h1v1h-1zM1662 373h1v1h-1zM1665 373h1v1h-1zM1668 373h1v1h-1zM1671 373h1v1h-1zM1674 373h1v1h-1zM1677 373h1v1h-1zM1680 373h1v1h-1zM1683 373h1v1h-1zM1686 373h1v1h-1zM1689 373h1v1h-1zM1692 373h1v1h-1zM1695 373h1v1h-1zM1698 373h1v1h-1zM1701 373h1v1h-1zM1704 373h1v1h-1zM1707 373h1v1h-1zM1710 373h1v1h-1zM1713 373h1v1h-1zM1716 373h1v1h-1zM1719 373h1v1h-1zM1722 373h1v1h-1zM1725 373h1v1h-1zM1728 373h1v1h-1zM1731 373h1v1h-1zM1734 373h1v1h-1zM1737 373h1v1h-1zM1740 373h1v1h-1zM1743 373h1v1h-1zM1746 373h1v1h-1zM1749 373h1v1h-1zM1752 373h1v1h-1z"/>
<g shape-rendering="geometricPrecision" fill="#131722"><path transform="translate(10.04 913.79) scale(0.547)" d="M14 22H7V11H0V4h14v18zM28.4 22h-8l7.5-18h8L28.4 22z"/><circle cx="20.95" cy="918.1" r="2.08"/></g>
</svg>
<div style="position:absolute;left:0;top:0;width:1834px;height:939px;will-change:transform"><span class="t" style="left:10.0px;top:8.1px;font-size:13px;letter-spacing:-0.512px">xtradernet published on TradingView.com, Nov 07, 2022 09:43 UTC+1</span>
<span class="t" style="left:18.0px;top:36.2px;font-size:11.78px;letter-spacing:-0.550px">0.86*EURGBP-GBPUSD, 1D, FX</span>
<span class="t" style="left:185.2px;top:36.4px;font-size:11.6px;letter-spacing:0.000px">O</span>
<span class="t" style="left:193.4px;top:35.7px;font-size:12.4px;letter-spacing:-0.490px;color:#ef5350">−0.37740</span>
<span class="t" style="left:248.8px;top:36.4px;font-size:11.6px;letter-spacing:0.000px">H</span>
<span class="t" style="left:257.6px;top:35.8px;font-size:12.29px;letter-spacing:-0.550px;color:#ef5350">−0.37690</span>
<span class="t" style="left:312.3px;top:36.4px;font-size:11.6px;letter-spacing:0.000px">L</span>
<span class="t" style="left:319.5px;top:35.9px;font-size:12.19px;letter-spacing:-0.550px;color:#ef5350">−0.38646</span>
<span class="t" style="left:374.2px;top:36.4px;font-size:11.6px;letter-spacing:0.000px">C</span>
<span class="t" style="left:381.3px;top:35.7px;font-size:12.4px;letter-spacing:-0.476px;color:#ef5350">−0.38646</span>
<span class="t" style="left:438.1px;top:35.8px;font-size:12.33px;letter-spacing:-0.550px;color:#ef5350">−0.00186 (−0.48%)</span>
<span class="t" style="left:1764.5px;top:65.4px;font-size:12.33px;letter-spacing:-0.550px">−0.26000</span>
<span class="t" style="left:1764.5px;top:121.9px;font-size:12.33px;letter-spacing:-0.550px">−0.28000</span>
<span class="t" style="left:1764.5px;top:174.5px;font-size:12.33px;letter-spacing:-0.550px">−0.30000</span>
<span class="t" style="left:1764.5px;top:223.7px;font-size:12.33px;letter-spacing:-0.550px">−0.32000</span>
<span class="t" style="left:1764.5px;top:269.9px;font-size:12.33px;letter-spacing:-0.550px">−0.34000</span>
<span class="t" style="left:1764.5px;top:313.5px;font-size:12.33px;letter-spacing:-0.550px">−0.36000</span>
<span class="t" style="left:1764.5px;top:393.8px;font-size:12.33px;letter-spacing:-0.550px">−0.40000</span>
<span class="t" style="left:1764.5px;top:431.0px;font-size:12.33px;letter-spacing:-0.550px">−0.42000</span>
<span class="t" style="left:1764.5px;top:466.5px;font-size:12.33px;letter-spacing:-0.550px">−0.44000</span>
<span class="t" style="left:1764.5px;top:500.3px;font-size:12.33px;letter-spacing:-0.550px">−0.46000</span>
<span class="t" style="left:1764.5px;top:532.8px;font-size:12.33px;letter-spacing:-0.550px">−0.48000</span>
<span class="t" style="left:1764.5px;top:608.3px;font-size:12.33px;letter-spacing:-0.550px">−0.53000</span>
<span class="t" style="left:1764.5px;top:650.3px;font-size:12.33px;letter-spacing:-0.550px">−0.56000</span>
<span class="t" style="left:1764.5px;top:690.1px;font-size:12.33px;letter-spacing:-0.550px">−0.59000</span>
<span class="t" style="left:1764.5px;top:727.9px;font-size:12.33px;letter-spacing:-0.550px">−0.62000</span>
<span class="t" style="left:1764.5px;top:758.1px;font-size:12.33px;letter-spacing:-0.550px">−0.64500</span>
<span class="t" style="left:1764.5px;top:792.7px;font-size:12.33px;letter-spacing:-0.550px">−0.67500</span>
<span class="t" style="left:1764.5px;top:825.9px;font-size:12.33px;letter-spacing:-0.550px">−0.70500</span>
<span class="t" style="left:1764.5px;top:857.6px;font-size:12.33px;letter-spacing:-0.550px">−0.73500</span>
<span class="t" style="left:46.3px;top:884.0px;font-size:12px;letter-spacing:-0.350px">Aug</span>
<span class="t" style="left:169.3px;top:884.0px;font-size:12px;letter-spacing:-0.350px">Oct</span>
<span class="t" style="left:262.9px;top:884.0px;font-size:12px;letter-spacing:-0.350px">16</span>
<span class="t" style="left:350.0px;top:884.0px;font-size:12px;letter-spacing:-0.350px;font-weight:bold">2021</span>
<span class="t" style="left:466.7px;top:884.0px;font-size:12px;letter-spacing:-0.350px">Mar</span>
<span class="t" style="left:592.2px;top:884.0px;font-size:12px;letter-spacing:-0.350px">May</span>
<span class="t" style="left:718.3px;top:884.0px;font-size:12px;letter-spacing:-0.350px">Jul</span>
<span class="t" style="left:840.2px;top:884.0px;font-size:12px;letter-spacing:-0.350px">Sep</span>
<span class="t" style="left:962.1px;top:884.0px;font-size:12px;letter-spacing:-0.350px">Nov</span>
<span class="t" style="left:1086.7px;top:884.0px;font-size:12px;letter-spacing:-0.350px;font-weight:bold">2022</span>
<span class="t" style="left:1206.7px;top:884.0px;font-size:12px;letter-spacing:-0.350px">Mar</span>
<span class="t" style="left:1329.5px;top:884.0px;font-size:12px;letter-spacing:-0.350px">May</span>
<span class="t" style="left:1458.1px;top:884.0px;font-size:12px;letter-spacing:-0.350px">Jul</span>
<span class="t" style="left:1580.4px;top:884.0px;font-size:12px;letter-spacing:-0.350px">Sep</span>
<span class="t" style="left:1702.3px;top:884.0px;font-size:12px;letter-spacing:-0.350px">Nov</span>
<span class="t" style="left:33.2px;top:914.9px;font-size:13px;letter-spacing:-0.145px">TradingView</span>
</div><div class="bg" style="top:331px;background:#2196f3"></div>
<div class="bg" style="top:348px;background:#673ab7"></div>
<div class="bg" style="top:365px;background:#ef5350"></div>
<div class="bg" style="top:444px;background:#26c6da"></div>
<div class="bg" style="top:559px;background:#fbc02d"></div>
<div class="bg v" style="top:832px;background:#ef5350"></div>
<div style="position:absolute;left:0;top:0;width:1834px;height:939px;will-change:transform"><span class="t" style="left:1764.3px;top:333.5px;font-size:12.33px;letter-spacing:-0.550px;font-weight:bold;color:#fff">−0.38351</span>
<span class="t" style="left:1764.3px;top:350.5px;font-size:12.33px;letter-spacing:-0.550px;font-weight:bold;color:#fff">−0.38479</span>
<span class="t" style="left:1764.3px;top:367.5px;font-size:12.33px;letter-spacing:-0.550px;font-weight:bold;color:#fff">−0.38646</span>
<span class="t" style="left:1764.3px;top:446.5px;font-size:12.33px;letter-spacing:-0.550px">−0.42887</span>
<span class="t" style="left:1764.3px;top:561.5px;font-size:12.33px;letter-spacing:-0.550px">−0.49846</span>
<span class="t" style="left:1764.2px;top:834.5px;font-size:12.24px;letter-spacing:-0.550px;font-weight:bold;color:#fff">396.248K</span>
</div></body></html>
